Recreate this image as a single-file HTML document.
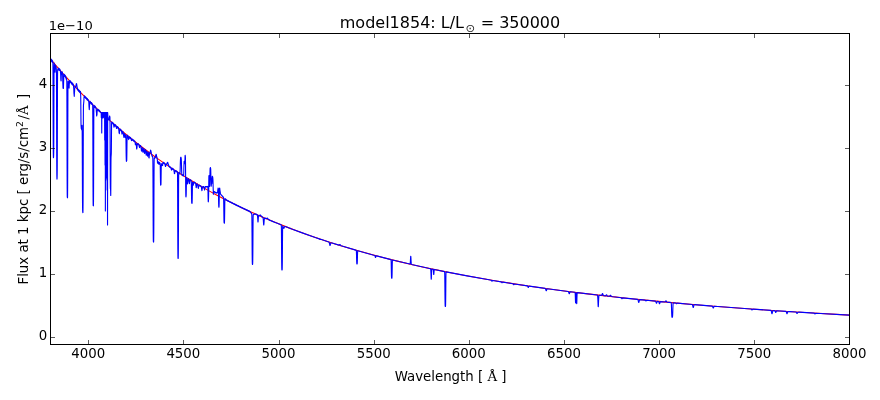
<!DOCTYPE html>
<html><head><meta charset="utf-8"><title>model1854</title>
<style>
html,body{margin:0;padding:0;background:#fff;}
svg{display:block;font-family:"DejaVu Sans","Liberation Sans",sans-serif;font-size:13.33px;fill:#000;}
.ser{font-family:"DejaVu Serif","Liberation Serif",serif;}
</style></head><body>
<svg width="880" height="400" viewBox="0 0 880 400">
<rect width="880" height="400" fill="#fff"/>
<clipPath id="c"><rect x="50.5" y="33.5" width="799.0" height="311.0"/></clipPath>
<g clip-path="url(#c)" fill="none" stroke-linejoin="round" stroke-width="1.11">
<path d="M50.50,59.23 L55.82,65.47 L61.22,71.64 L66.66,77.70 L72.18,83.70 L77.78,89.61 L83.42,95.41 L89.14,101.13 L94.94,106.78 L100.82,112.34 L106.78,117.81 L112.82,123.20 L118.98,128.54 L125.22,133.79 L131.54,138.94 L137.98,144.03 L144.54,149.06 L151.18,153.98 L157.94,158.84 L164.82,163.62 L171.86,168.36 L179.02,173.01 L186.30,177.58 L193.74,182.09 L201.34,186.53 L209.06,190.89 L216.94,195.18 L225.02,199.41 L233.26,203.56 L241.70,207.66 L250.34,211.69 L259.18,215.65 L268.22,219.54 L277.46,223.36 L286.94,227.11 L296.66,230.80 L306.66,234.43 L316.90,237.99 L327.42,241.48 L338.26,244.92 L349.38,248.29 L360.82,251.59 L372.62,254.83 L384.78,258.01 L397.34,261.14 L410.30,264.19 L423.66,267.19 L437.50,270.12 L451.82,273.00 L466.62,275.81 L481.98,278.57 L497.90,281.26 L514.42,283.89 L531.62,286.47 L549.50,288.98 L568.10,291.44 L587.50,293.83 L607.74,296.17 L628.90,298.45 L651.06,300.67 L674.26,302.84 L698.58,304.95 L724.14,307.00 L751.02,308.99 L779.34,310.93 L809.22,312.80 L840.78,314.62 L849.50,315.10" stroke="#f00"/>
<path d="M50.50,59.23 L50.54,59.60 L50.58,59.78 L50.62,59.69 L50.70,59.14 L50.74,59.05 L50.78,59.23 L50.82,59.61 L50.86,60.31 L50.90,60.63 L50.94,60.41 L51.02,59.18 L51.06,58.96 L51.10,59.28 L51.14,59.98 L51.18,60.53 L51.22,60.78 L51.26,60.62 L51.34,59.73 L51.38,59.57 L51.42,59.82 L51.46,60.36 L51.50,61.04 L51.54,61.35 L51.58,61.13 L51.66,59.97 L51.70,59.76 L51.74,60.07 L51.78,60.74 L51.82,61.54 L51.86,61.89 L51.90,61.63 L51.98,60.23 L52.02,59.97 L52.06,60.33 L52.10,61.12 L52.14,61.71 L52.18,61.98 L52.22,61.80 L52.30,60.82 L52.34,60.64 L52.38,60.91 L52.46,62.06 L52.50,62.33 L52.54,62.16 L52.62,61.21 L52.66,61.04 L52.70,61.31 L52.74,61.87 L52.78,62.25 L52.86,62.73 L52.90,63.44 L52.94,65.62 L52.98,70.41 L53.02,78.61 L53.06,90.05 L53.10,103.64 L53.14,117.44 L53.18,129.76 L53.22,139.56 L53.26,146.64 L53.30,151.39 L53.34,154.40 L53.38,156.21 L53.42,157.28 L53.46,157.66 L53.50,157.50 L53.54,157.02 L53.58,156.44 L53.62,155.76 L53.66,154.67 L53.70,152.43 L53.74,148.21 L53.78,141.07 L53.82,130.70 L53.86,117.71 L53.90,103.57 L53.94,90.24 L53.98,79.46 L54.02,72.10 L54.06,67.94 L54.10,65.83 L54.14,64.65 L54.18,63.78 L54.22,63.17 L54.26,63.04 L54.30,63.50 L54.34,64.41 L54.38,65.18 L54.42,65.76 L54.46,66.05 L54.50,66.17 L54.54,66.37 L54.58,66.91 L54.62,67.90 L54.66,69.17 L54.70,70.30 L54.74,71.18 L54.78,71.72 L54.82,71.93 L54.94,72.09 L55.02,72.17 L55.06,71.80 L55.10,70.99 L55.18,68.78 L55.22,67.94 L55.26,67.50 L55.30,67.39 L55.34,67.64 L55.38,67.59 L55.42,67.04 L55.50,65.36 L55.54,65.03 L55.58,65.31 L55.62,66.04 L55.66,66.47 L55.70,66.71 L55.74,66.65 L55.82,66.11 L55.86,66.07 L55.90,66.35 L55.94,66.85 L55.98,67.47 L56.02,67.80 L56.06,67.73 L56.14,67.04 L56.18,66.97 L56.22,67.31 L56.26,67.94 L56.30,68.81 L56.34,69.42 L56.38,69.92 L56.42,71.19 L56.46,74.70 L56.50,81.90 L56.54,93.39 L56.58,108.35 L56.62,124.38 L56.66,139.81 L56.70,152.92 L56.74,162.88 L56.78,169.72 L56.82,174.00 L56.86,176.50 L56.90,177.85 L56.94,178.76 L56.98,179.09 L57.02,178.91 L57.06,178.35 L57.10,177.53 L57.14,176.33 L57.18,174.28 L57.22,170.51 L57.26,164.18 L57.30,154.32 L57.34,140.89 L57.38,124.97 L57.42,108.61 L57.46,94.15 L57.50,83.34 L57.54,76.64 L57.58,72.90 L57.62,71.18 L57.66,70.33 L57.70,69.72 L57.74,69.26 L57.78,69.06 L57.82,69.17 L57.86,69.50 L57.90,69.98 L57.94,70.15 L57.98,69.89 L58.06,68.78 L58.10,68.52 L58.14,68.71 L58.18,69.20 L58.22,69.85 L58.26,70.11 L58.30,69.81 L58.38,68.41 L58.42,68.12 L58.46,68.39 L58.50,69.07 L58.54,69.40 L58.58,69.54 L58.62,69.41 L58.70,68.76 L58.74,68.64 L58.78,68.79 L58.82,69.14 L58.86,69.67 L58.90,69.90 L58.94,69.72 L59.02,68.76 L59.06,68.59 L59.10,68.83 L59.14,69.37 L59.18,70.01 L59.22,70.29 L59.26,70.08 L59.34,68.95 L59.38,68.74 L59.42,69.03 L59.50,70.28 L59.54,70.56 L59.58,70.37 L59.66,69.32 L59.70,69.13 L59.74,69.41 L59.78,70.02 L59.82,70.54 L59.86,70.78 L59.90,70.63 L59.98,69.77 L60.02,69.62 L60.06,69.86 L60.10,70.39 L60.14,70.81 L60.18,71.02 L60.22,70.95 L60.30,70.43 L60.34,70.43 L60.38,70.78 L60.42,71.39 L60.46,72.20 L60.50,72.82 L60.54,73.13 L60.58,73.27 L60.62,73.51 L60.66,74.14 L60.70,75.26 L60.78,78.11 L60.82,79.23 L60.86,79.90 L60.90,80.17 L60.98,80.36 L61.06,80.82 L61.10,80.87 L61.14,80.46 L61.18,79.50 L61.26,76.82 L61.30,75.75 L61.34,75.12 L61.42,74.64 L61.46,74.29 L61.50,73.69 L61.54,72.94 L61.58,72.27 L61.62,71.94 L61.66,72.01 L61.70,72.37 L61.74,72.98 L61.78,73.24 L61.82,72.99 L61.90,71.79 L61.94,71.57 L61.98,71.87 L62.06,73.19 L62.10,73.48 L62.14,73.28 L62.22,72.17 L62.26,71.97 L62.30,72.26 L62.34,72.90 L62.38,73.35 L62.42,73.57 L62.46,73.48 L62.50,73.21 L62.54,73.07 L62.58,73.39 L62.62,74.36 L62.66,75.94 L62.74,79.96 L62.78,81.58 L62.82,82.82 L62.90,84.84 L62.98,87.09 L63.02,87.86 L63.06,88.24 L63.10,88.21 L63.18,87.56 L63.22,87.44 L63.26,87.64 L63.34,88.47 L63.38,88.52 L63.42,88.04 L63.46,87.05 L63.58,83.21 L63.62,82.01 L63.66,80.67 L63.70,79.17 L63.74,77.56 L63.78,76.06 L63.82,74.93 L63.86,74.37 L63.90,74.37 L63.94,74.74 L63.98,75.29 L64.02,75.56 L64.06,75.37 L64.14,74.38 L64.18,74.20 L64.22,74.47 L64.26,75.06 L64.30,75.52 L64.34,75.74 L64.38,75.61 L64.46,74.87 L64.50,74.74 L64.54,74.96 L64.62,75.93 L64.66,76.17 L64.70,76.03 L64.78,75.21 L64.82,75.08 L64.86,75.32 L64.90,75.82 L64.94,76.44 L64.98,76.73 L65.02,76.55 L65.10,75.53 L65.14,75.36 L65.18,75.65 L65.22,76.27 L65.26,76.77 L65.30,77.02 L65.34,76.90 L65.42,76.17 L65.46,76.06 L65.50,76.31 L65.54,76.82 L65.58,77.54 L65.62,77.89 L65.66,77.71 L65.74,76.60 L65.78,76.42 L65.82,76.78 L65.86,77.52 L65.90,77.95 L65.94,78.19 L65.98,78.15 L66.06,77.70 L66.10,77.67 L66.14,77.92 L66.18,78.37 L66.22,79.06 L66.26,79.41 L66.30,79.30 L66.38,78.41 L66.42,78.29 L66.46,78.65 L66.50,79.35 L66.54,79.91 L66.58,80.21 L66.62,80.16 L66.70,79.58 L66.74,79.71 L66.78,80.71 L66.82,83.23 L66.86,88.15 L66.90,96.32 L66.94,108.09 L66.98,122.89 L67.02,139.29 L67.06,155.46 L67.10,169.78 L67.14,181.16 L67.18,189.29 L67.22,194.21 L67.26,196.52 L67.30,197.12 L67.38,196.87 L67.42,197.13 L67.46,197.64 L67.50,197.82 L67.54,196.97 L67.58,194.34 L67.62,189.25 L67.66,181.26 L67.70,170.20 L67.74,156.35 L67.78,140.55 L67.82,124.24 L67.86,109.27 L67.90,97.23 L67.94,88.90 L67.98,84.08 L68.02,81.91 L68.06,81.35 L68.14,81.75 L68.18,81.82 L68.22,81.70 L68.30,81.21 L68.34,81.15 L68.38,81.33 L68.42,81.70 L68.46,82.17 L68.50,82.54 L68.54,82.74 L68.58,82.85 L68.62,83.05 L68.66,83.49 L68.70,84.24 L68.74,85.21 L68.78,86.44 L68.82,87.32 L68.86,87.68 L68.90,87.62 L68.94,87.42 L68.98,87.37 L69.02,87.59 L69.06,87.95 L69.10,88.06 L69.14,87.76 L69.18,86.97 L69.26,84.67 L69.30,83.79 L69.34,83.35 L69.38,83.23 L69.42,83.27 L69.46,83.08 L69.50,82.53 L69.58,81.01 L69.62,80.66 L69.66,80.79 L69.70,81.28 L69.74,81.90 L69.78,82.17 L69.82,81.91 L69.90,80.67 L69.94,80.44 L69.98,80.74 L70.02,81.41 L70.06,81.98 L70.10,82.24 L70.14,82.06 L70.22,81.08 L70.26,80.90 L70.30,81.16 L70.34,81.73 L70.38,82.04 L70.42,82.20 L70.46,82.13 L70.54,81.67 L70.58,81.60 L70.62,81.75 L70.66,82.07 L70.70,82.48 L70.74,82.68 L70.78,82.57 L70.86,81.90 L70.90,81.79 L70.94,81.99 L70.98,82.41 L71.02,82.94 L71.06,83.18 L71.10,83.02 L71.18,82.13 L71.22,81.97 L71.26,82.22 L71.30,82.75 L71.34,83.14 L71.38,83.32 L71.42,83.22 L71.50,82.62 L71.54,82.52 L71.58,82.71 L71.62,83.09 L71.66,83.77 L71.70,84.08 L71.74,83.86 L71.82,82.67 L71.86,82.45 L71.90,82.76 L71.98,84.11 L72.02,84.41 L72.06,84.19 L72.14,83.03 L72.18,82.81 L72.22,83.11 L72.30,84.41 L72.34,84.70 L72.38,84.50 L72.46,83.41 L72.50,83.21 L72.54,83.49 L72.58,84.12 L72.62,84.60 L72.66,84.82 L72.70,84.69 L72.78,83.90 L72.82,83.77 L72.86,83.99 L72.90,84.47 L72.94,85.09 L72.98,85.37 L73.02,85.18 L73.10,84.11 L73.14,83.92 L73.18,84.21 L73.22,84.85 L73.26,85.22 L73.30,85.42 L73.34,85.39 L73.42,85.06 L73.46,85.12 L73.50,85.46 L73.54,86.03 L73.58,86.72 L73.62,87.27 L73.66,87.60 L73.74,88.04 L73.78,88.59 L73.82,89.51 L73.86,90.69 L73.90,91.95 L73.94,92.96 L73.98,93.59 L74.02,93.91 L74.06,94.14 L74.10,94.49 L74.14,95.05 L74.22,96.27 L74.26,96.36 L74.30,95.84 L74.34,94.86 L74.38,93.76 L74.42,92.88 L74.46,92.38 L74.50,92.16 L74.54,91.84 L74.58,91.29 L74.62,90.44 L74.70,88.41 L74.74,87.76 L74.78,87.55 L74.86,87.71 L74.90,87.65 L74.94,87.39 L75.02,86.64 L75.06,86.48 L75.10,86.58 L75.14,86.87 L75.18,87.25 L75.22,87.41 L75.26,87.27 L75.34,86.53 L75.38,86.37 L75.42,86.52 L75.50,87.22 L75.54,87.34 L75.58,87.14 L75.66,86.26 L75.70,86.02 L75.74,86.07 L75.82,86.53 L75.86,86.53 L75.90,86.22 L75.98,85.15 L76.02,84.81 L76.06,84.77 L76.14,85.05 L76.18,85.00 L76.22,84.71 L76.30,83.83 L76.34,83.60 L76.38,83.66 L76.42,83.92 L76.46,84.31 L76.50,84.50 L76.54,84.39 L76.62,83.81 L76.66,83.80 L76.70,84.15 L76.78,85.40 L76.82,85.82 L76.86,85.91 L76.94,85.63 L76.98,85.74 L77.02,86.18 L77.06,86.86 L77.10,87.66 L77.14,88.13 L77.18,88.14 L77.26,87.49 L77.30,87.46 L77.34,87.86 L77.42,89.24 L77.46,89.60 L77.50,89.50 L77.58,88.62 L77.62,88.48 L77.66,88.79 L77.70,89.40 L77.74,89.91 L77.78,90.15 L77.82,90.03 L77.90,89.27 L77.94,89.14 L77.98,89.36 L78.06,90.31 L78.10,90.52 L78.14,90.39 L78.22,89.66 L78.26,89.53 L78.30,89.74 L78.34,90.19 L78.38,90.77 L78.42,91.03 L78.46,90.85 L78.54,89.87 L78.58,89.69 L78.62,89.95 L78.70,91.14 L78.74,91.42 L78.78,91.23 L78.86,90.16 L78.90,89.97 L78.94,90.25 L78.98,90.86 L79.02,91.39 L79.06,91.64 L79.10,91.47 L79.18,90.58 L79.22,90.41 L79.26,90.66 L79.34,91.77 L79.38,92.03 L79.42,91.85 L79.50,90.86 L79.54,90.68 L79.58,90.94 L79.66,92.15 L79.70,92.44 L79.74,92.23 L79.82,91.14 L79.86,90.94 L79.90,91.22 L79.94,91.85 L79.98,92.14 L80.02,92.28 L80.06,92.22 L80.14,91.81 L80.18,91.75 L80.22,91.89 L80.26,92.18 L80.30,92.79 L80.34,93.06 L80.38,92.87 L80.46,91.83 L80.50,91.65 L80.54,91.96 L80.62,93.42 L80.66,94.37 L80.70,95.72 L80.74,97.74 L80.78,100.68 L80.82,104.55 L80.86,109.11 L80.90,113.83 L80.94,118.22 L80.98,121.69 L81.02,124.06 L81.06,125.44 L81.10,126.17 L81.22,127.74 L81.26,128.34 L81.30,128.60 L81.34,128.42 L81.42,127.33 L81.46,126.93 L81.50,126.86 L81.54,127.17 L81.58,127.77 L81.66,129.39 L81.70,129.90 L81.74,129.93 L81.78,129.52 L81.86,128.21 L81.90,127.35 L81.94,126.59 L81.98,125.94 L82.02,125.45 L82.06,125.33 L82.10,125.94 L82.14,127.81 L82.18,131.47 L82.22,137.51 L82.26,145.63 L82.30,155.26 L82.34,165.52 L82.38,175.51 L82.42,184.58 L82.46,192.46 L82.50,199.07 L82.54,204.09 L82.58,207.74 L82.62,210.02 L82.66,211.16 L82.70,211.56 L82.78,211.89 L82.82,212.21 L82.86,212.62 L82.90,212.67 L82.94,212.00 L82.98,210.31 L83.02,207.30 L83.06,202.66 L83.10,196.01 L83.14,187.03 L83.18,175.79 L83.22,162.44 L83.26,147.97 L83.30,133.91 L83.34,121.88 L83.38,113.07 L83.42,107.77 L83.46,105.36 L83.50,104.54 L83.58,104.23 L83.62,103.82 L83.70,102.74 L83.74,102.38 L83.82,101.84 L83.86,101.27 L83.90,100.34 L83.98,98.12 L84.02,97.39 L84.06,97.13 L84.10,97.21 L84.14,97.43 L84.18,97.43 L84.22,97.09 L84.30,95.97 L84.34,95.75 L84.38,95.96 L84.46,97.01 L84.50,97.26 L84.54,97.08 L84.62,96.10 L84.66,95.93 L84.70,96.18 L84.78,97.29 L84.82,97.54 L84.86,97.37 L84.94,96.45 L84.98,96.28 L85.02,96.53 L85.06,97.07 L85.10,97.33 L85.14,97.47 L85.18,97.41 L85.26,97.04 L85.30,96.99 L85.34,97.13 L85.38,97.39 L85.42,97.81 L85.46,98.00 L85.50,97.89 L85.58,97.22 L85.62,97.10 L85.66,97.30 L85.74,98.14 L85.78,98.34 L85.82,98.22 L85.90,97.52 L85.94,97.40 L85.98,97.60 L86.02,98.03 L86.06,98.31 L86.10,98.45 L86.14,98.39 L86.22,97.99 L86.26,97.93 L86.30,98.07 L86.34,98.35 L86.38,98.81 L86.42,99.02 L86.46,98.89 L86.54,98.14 L86.58,98.01 L86.62,98.22 L86.70,99.15 L86.74,99.37 L86.78,99.23 L86.86,98.43 L86.90,98.29 L86.94,98.51 L87.02,99.55 L87.06,99.80 L87.10,99.63 L87.18,98.67 L87.22,98.50 L87.26,98.75 L87.34,99.91 L87.38,100.18 L87.42,99.99 L87.50,98.95 L87.54,98.76 L87.58,99.03 L87.62,99.63 L87.66,99.93 L87.70,100.08 L87.74,100.01 L87.82,99.56 L87.86,99.49 L87.90,99.64 L87.98,100.29 L88.02,100.45 L88.06,100.37 L88.14,99.85 L88.18,99.76 L88.22,99.93 L88.26,100.27 L88.30,100.76 L88.34,100.99 L88.38,100.85 L88.46,100.06 L88.50,99.95 L88.54,100.23 L88.58,100.80 L88.62,101.21 L88.66,101.52 L88.70,101.66 L88.78,101.86 L88.82,102.23 L88.86,102.92 L88.90,103.84 L88.94,104.87 L88.98,105.77 L89.02,106.45 L89.14,107.84 L89.22,109.00 L89.26,109.51 L89.30,109.57 L89.34,109.10 L89.38,108.22 L89.42,107.22 L89.46,106.37 L89.50,105.83 L89.54,105.53 L89.58,105.12 L89.62,104.62 L89.74,102.60 L89.78,102.21 L89.82,102.11 L89.86,102.24 L89.90,102.64 L89.94,102.79 L89.98,102.56 L90.06,101.59 L90.10,101.41 L90.14,101.64 L90.22,102.72 L90.26,102.97 L90.30,102.79 L90.38,101.84 L90.42,101.67 L90.46,101.92 L90.50,102.47 L90.54,102.74 L90.58,102.87 L90.62,102.81 L90.70,102.44 L90.74,102.39 L90.78,102.52 L90.82,102.78 L90.86,103.22 L90.90,103.43 L90.94,103.30 L91.02,102.58 L91.06,102.46 L91.10,102.66 L91.14,103.10 L91.18,103.63 L91.22,103.87 L91.26,103.70 L91.34,102.80 L91.38,102.64 L91.42,102.88 L91.50,104.00 L91.54,104.27 L91.58,104.08 L91.66,103.06 L91.70,102.87 L91.74,103.13 L91.78,103.72 L91.82,104.07 L91.86,104.23 L91.90,104.15 L91.98,103.61 L92.02,103.52 L92.06,103.69 L92.14,104.34 L92.18,104.49 L92.22,104.42 L92.30,103.96 L92.34,103.89 L92.38,104.04 L92.42,104.34 L92.46,104.90 L92.50,105.15 L92.54,104.97 L92.62,104.12 L92.66,104.28 L92.70,105.58 L92.74,108.75 L92.78,114.52 L92.82,123.34 L92.86,135.00 L92.90,148.55 L92.94,162.60 L92.98,175.71 L93.02,186.83 L93.06,195.35 L93.10,200.86 L93.14,204.00 L93.18,205.37 L93.22,205.68 L93.30,205.50 L93.38,205.83 L93.42,205.69 L93.46,204.43 L93.50,201.33 L93.54,195.81 L93.58,187.53 L93.62,176.56 L93.66,163.45 L93.70,149.33 L93.74,135.78 L93.78,124.17 L93.82,115.46 L93.86,109.83 L93.90,106.80 L93.94,105.60 L93.98,105.50 L94.02,105.91 L94.06,106.43 L94.10,106.67 L94.14,106.50 L94.22,105.59 L94.26,105.42 L94.30,105.67 L94.34,106.20 L94.38,106.50 L94.42,106.65 L94.46,106.58 L94.54,106.13 L94.58,106.06 L94.62,106.21 L94.66,106.51 L94.70,106.98 L94.74,107.20 L94.78,107.05 L94.86,106.27 L94.90,106.13 L94.94,106.35 L95.02,107.33 L95.06,107.57 L95.10,107.41 L95.18,106.53 L95.22,106.37 L95.26,106.61 L95.30,107.12 L95.34,107.55 L95.38,107.75 L95.42,107.63 L95.50,106.92 L95.54,106.80 L95.58,107.00 L95.62,107.43 L95.66,107.74 L95.70,107.89 L95.74,107.83 L95.82,107.42 L95.86,107.38 L95.90,107.57 L95.98,108.26 L96.02,108.49 L96.06,108.58 L96.14,108.62 L96.18,108.84 L96.22,109.30 L96.26,109.94 L96.30,110.72 L96.34,111.37 L96.38,111.82 L96.46,112.45 L96.50,112.94 L96.54,113.65 L96.58,114.49 L96.62,115.42 L96.66,115.98 L96.70,116.04 L96.74,115.70 L96.78,115.24 L96.82,114.92 L96.86,114.88 L96.90,115.01 L96.94,114.81 L96.98,114.41 L97.02,113.79 L97.10,112.27 L97.14,111.67 L97.18,111.28 L97.30,110.66 L97.42,109.53 L97.46,109.33 L97.50,109.33 L97.54,109.48 L97.58,109.77 L97.62,109.89 L97.66,109.76 L97.74,109.15 L97.78,109.05 L97.82,109.21 L97.86,109.57 L97.90,109.82 L97.94,109.95 L97.98,109.90 L98.06,109.52 L98.10,109.47 L98.14,109.60 L98.22,110.15 L98.26,110.29 L98.30,110.22 L98.38,109.80 L98.42,109.73 L98.46,109.87 L98.54,110.41 L98.58,110.53 L98.62,110.48 L98.70,110.14 L98.74,110.09 L98.78,110.22 L98.82,110.46 L98.86,110.87 L98.90,111.07 L98.94,110.95 L99.02,110.28 L99.06,110.16 L99.10,110.36 L99.18,111.23 L99.22,111.44 L99.26,111.30 L99.34,110.53 L99.38,110.39 L99.42,110.60 L99.46,111.07 L99.50,111.44 L99.54,111.62 L99.58,111.52 L99.66,110.91 L99.70,110.81 L99.74,110.99 L99.78,111.37 L99.82,111.65 L99.86,111.78 L99.90,111.72 L99.98,111.31 L100.02,111.25 L100.06,111.39 L100.14,112.01 L100.18,112.17 L100.30,112.17 L101.10,112.50 L101.18,112.50 L101.30,117.50 L101.42,112.50 L101.62,112.50 L101.74,132.90 L101.86,112.50 L102.06,112.50 L102.18,118.00 L102.30,112.50 L102.46,112.50 L102.58,117.00 L102.70,112.50 L102.86,112.50 L102.98,118.00 L103.10,112.50 L103.30,112.50 L103.42,117.50 L103.54,112.50 L103.66,112.50 L103.78,116.50 L103.90,112.50 L104.58,112.50 L104.70,140.00 L104.82,112.50 L104.94,112.50 L105.06,165.00 L105.18,112.50 L105.26,112.50 L105.38,211.00 L105.50,112.50 L105.62,112.50 L105.74,180.00 L105.86,112.50 L105.98,112.50 L106.10,165.00 L106.22,112.50 L106.34,112.50 L106.46,178.00 L106.58,112.50 L106.70,112.50 L106.82,170.00 L106.94,112.50 L107.02,112.50 L107.14,190.00 L107.26,112.50 L107.42,112.50 L107.54,225.00 L107.66,112.50 L107.98,118.14 L108.02,118.44 L108.06,118.62 L108.14,119.39 L108.18,119.57 L108.22,119.46 L108.30,118.83 L108.34,118.71 L108.38,118.89 L108.46,119.58 L108.50,119.72 L108.54,119.62 L108.62,119.08 L108.66,118.97 L108.70,119.08 L108.74,119.35 L108.78,119.73 L108.82,119.86 L108.86,119.64 L108.94,118.67 L108.98,118.40 L109.02,118.45 L109.06,118.72 L109.10,118.79 L109.14,118.72 L109.18,118.43 L109.26,117.55 L109.30,117.24 L109.34,117.12 L109.42,117.19 L109.46,117.11 L109.50,116.85 L109.58,116.13 L109.62,115.97 L109.66,116.04 L109.70,116.30 L109.74,116.65 L109.78,116.87 L109.82,116.88 L109.86,116.78 L109.90,116.82 L109.94,117.41 L109.98,119.25 L110.02,123.16 L110.06,129.74 L110.10,138.87 L110.18,160.31 L110.22,169.81 L110.26,177.31 L110.30,182.66 L110.34,186.10 L110.38,187.99 L110.42,188.82 L110.46,189.03 L110.50,189.01 L110.54,189.14 L110.58,189.76 L110.62,191.09 L110.70,194.93 L110.74,195.43 L110.78,193.29 L110.82,188.09 L110.86,180.56 L110.90,172.38 L110.94,165.34 L110.98,160.54 L111.02,157.94 L111.06,156.75 L111.10,156.13 L111.18,155.14 L111.22,154.73 L111.26,154.24 L111.30,153.26 L111.34,151.04 L111.38,147.51 L111.42,142.73 L111.46,137.22 L111.50,131.82 L111.54,127.45 L111.58,124.59 L111.62,123.18 L111.66,122.78 L111.74,122.55 L111.82,122.03 L111.86,121.95 L111.90,122.10 L111.98,122.71 L112.02,122.85 L112.06,122.78 L112.14,122.36 L112.18,122.29 L112.22,122.43 L112.30,123.06 L112.34,123.23 L112.38,123.13 L112.46,122.57 L112.50,122.48 L112.54,122.64 L112.62,123.29 L112.66,123.43 L112.70,123.36 L112.78,122.91 L112.82,122.83 L112.86,122.98 L112.94,123.64 L112.98,123.81 L113.02,123.71 L113.10,123.13 L113.14,123.03 L113.18,123.21 L113.22,123.58 L113.26,124.07 L113.30,124.31 L113.34,124.19 L113.42,123.46 L113.46,123.38 L113.50,123.70 L113.54,124.31 L113.58,124.79 L113.62,125.13 L113.66,125.25 L113.74,125.22 L113.78,125.39 L113.82,125.78 L113.90,126.90 L113.94,127.21 L113.98,127.16 L114.06,126.43 L114.10,126.19 L114.14,126.20 L114.22,126.53 L114.26,126.46 L114.30,126.11 L114.38,125.03 L114.42,124.74 L114.46,124.76 L114.54,125.36 L114.58,125.48 L114.62,125.30 L114.70,124.51 L114.74,124.36 L114.78,124.54 L114.82,124.97 L114.86,125.19 L114.90,125.30 L114.94,125.26 L115.02,124.93 L115.06,124.89 L115.10,125.00 L115.14,125.23 L115.18,125.66 L115.22,125.86 L115.26,125.73 L115.34,125.02 L115.38,124.89 L115.42,125.09 L115.50,126.00 L115.54,126.22 L115.58,126.07 L115.66,125.24 L115.70,125.09 L115.74,125.32 L115.78,125.81 L115.82,126.21 L115.86,126.41 L115.90,126.33 L115.98,125.79 L116.02,125.75 L116.06,126.02 L116.14,126.91 L116.18,127.19 L116.22,127.27 L116.30,127.12 L116.34,127.19 L116.38,127.45 L116.46,128.29 L116.50,128.50 L116.54,128.36 L116.62,127.55 L116.66,127.31 L116.70,127.36 L116.78,127.87 L116.82,127.91 L116.86,127.66 L116.94,126.75 L116.98,126.54 L117.02,126.66 L117.10,127.38 L117.14,127.53 L117.18,127.40 L117.26,126.72 L117.30,126.60 L117.34,126.78 L117.38,127.17 L117.42,127.42 L117.46,127.54 L117.50,127.49 L117.58,127.13 L117.62,127.07 L117.66,127.20 L117.70,127.45 L117.74,127.93 L117.78,128.15 L117.82,128.00 L117.90,127.17 L117.94,127.02 L117.98,127.24 L118.06,128.20 L118.10,128.42 L118.14,128.27 L118.22,127.46 L118.26,127.32 L118.30,127.55 L118.34,128.04 L118.38,128.39 L118.42,128.57 L118.46,128.53 L118.54,128.15 L118.58,128.16 L118.62,128.44 L118.66,128.92 L118.70,129.48 L118.74,129.88 L118.78,130.04 L118.86,130.05 L118.90,130.29 L118.94,130.82 L118.98,131.56 L119.02,132.13 L119.06,132.57 L119.10,132.82 L119.22,133.00 L119.30,133.28 L119.34,133.63 L119.38,133.64 L119.42,133.22 L119.50,131.74 L119.54,131.22 L119.58,131.08 L119.66,131.30 L119.70,131.19 L119.74,130.78 L119.82,129.60 L119.86,129.30 L119.90,129.36 L119.98,129.97 L120.02,130.09 L120.06,129.93 L120.14,129.24 L120.18,129.11 L120.22,129.27 L120.30,130.06 L120.34,130.24 L120.38,130.12 L120.46,129.42 L120.50,129.30 L120.54,129.49 L120.58,129.90 L120.62,130.16 L120.66,130.28 L120.70,130.22 L120.78,129.85 L120.82,129.79 L120.86,129.92 L120.94,130.46 L120.98,130.60 L121.02,130.53 L121.10,130.09 L121.14,130.02 L121.18,130.17 L121.26,130.75 L121.30,130.90 L121.34,130.87 L121.42,130.57 L121.46,130.58 L121.50,130.82 L121.54,131.23 L121.58,131.76 L121.62,132.13 L121.66,132.26 L121.74,132.18 L121.78,132.35 L121.82,132.78 L121.86,133.38 L121.90,133.80 L121.94,134.05 L121.98,134.07 L122.10,133.50 L122.18,133.41 L122.22,133.60 L122.26,133.53 L122.30,133.13 L122.38,131.89 L122.42,131.55 L122.46,131.59 L122.50,131.90 L122.54,132.12 L122.58,132.19 L122.62,132.04 L122.70,131.46 L122.74,131.35 L122.78,131.50 L122.86,132.15 L122.90,132.31 L122.94,132.25 L123.02,131.81 L123.06,131.78 L123.10,132.01 L123.18,132.78 L123.22,133.05 L123.26,133.18 L123.34,133.33 L123.38,133.56 L123.42,133.98 L123.46,134.53 L123.50,135.26 L123.54,135.77 L123.58,135.98 L123.66,135.91 L123.70,136.00 L123.74,136.32 L123.82,137.20 L123.86,137.32 L123.90,137.05 L123.98,135.88 L124.02,135.46 L124.06,135.33 L124.14,135.44 L124.18,135.29 L124.22,134.89 L124.30,133.78 L124.34,133.47 L124.38,133.49 L124.46,133.93 L124.50,134.03 L124.54,133.98 L124.62,133.72 L124.66,133.79 L124.70,134.08 L124.74,134.54 L124.78,135.18 L124.82,135.63 L124.86,135.78 L124.94,135.68 L124.98,135.83 L125.02,136.28 L125.06,136.91 L125.10,137.32 L125.14,137.56 L125.18,137.58 L125.30,137.00 L125.38,136.95 L125.42,137.11 L125.46,137.02 L125.50,136.60 L125.58,135.33 L125.62,134.94 L125.66,134.89 L125.74,135.29 L125.82,135.43 L125.86,135.63 L125.90,136.35 L125.94,137.94 L125.98,140.49 L126.02,143.81 L126.06,147.36 L126.10,150.76 L126.14,153.65 L126.18,155.91 L126.22,157.58 L126.26,158.83 L126.30,159.80 L126.34,160.54 L126.38,161.10 L126.42,161.34 L126.46,161.26 L126.54,160.73 L126.58,160.62 L126.66,160.80 L126.70,160.69 L126.74,160.02 L126.78,158.60 L126.82,156.42 L126.86,153.65 L126.94,147.46 L126.98,144.51 L127.02,141.77 L127.06,139.46 L127.10,137.65 L127.14,136.36 L127.18,135.57 L127.22,135.25 L127.26,135.28 L127.30,135.51 L127.34,135.92 L127.38,136.11 L127.42,135.98 L127.50,135.28 L127.54,135.16 L127.58,135.36 L127.62,135.78 L127.66,136.09 L127.70,136.24 L127.74,136.18 L127.82,135.75 L127.86,135.71 L127.90,135.90 L127.94,136.27 L127.98,136.78 L128.02,137.07 L128.06,137.06 L128.14,136.64 L128.18,136.69 L128.22,137.09 L128.30,138.36 L128.34,138.77 L128.38,138.86 L128.46,138.53 L128.50,138.54 L128.54,138.83 L128.58,139.29 L128.62,139.50 L128.66,139.56 L128.70,139.43 L128.78,138.82 L128.82,138.58 L128.86,138.47 L128.90,138.47 L128.94,138.61 L128.98,138.56 L129.02,138.26 L129.10,137.33 L129.14,137.08 L129.18,137.13 L129.26,137.58 L129.30,137.65 L129.34,137.53 L129.42,137.06 L129.46,136.97 L129.50,137.09 L129.54,137.35 L129.58,137.73 L129.62,137.90 L129.66,137.78 L129.74,137.14 L129.78,137.02 L129.82,137.20 L129.90,137.92 L129.94,138.07 L129.98,137.98 L130.06,137.45 L130.10,137.36 L130.14,137.52 L130.22,138.15 L130.26,138.30 L130.30,138.22 L130.38,137.73 L130.42,137.65 L130.46,137.80 L130.50,138.10 L130.54,138.52 L130.58,138.72 L130.62,138.59 L130.70,137.89 L130.74,137.76 L130.78,137.96 L130.82,138.39 L130.86,138.62 L130.90,138.74 L130.94,138.74 L131.02,138.57 L131.06,138.60 L131.10,138.79 L131.14,139.10 L131.18,139.55 L131.22,139.83 L131.26,139.87 L131.34,139.58 L131.38,139.60 L131.42,139.83 L131.46,140.21 L131.50,140.50 L131.54,140.61 L131.58,140.50 L131.66,139.90 L131.70,139.71 L131.74,139.71 L131.82,139.93 L131.86,139.91 L131.90,139.77 L131.98,139.34 L132.02,139.25 L132.06,139.30 L132.10,139.47 L132.14,139.82 L132.18,139.98 L132.22,139.85 L132.30,139.21 L132.34,139.10 L132.38,139.27 L132.46,139.98 L132.50,140.13 L132.54,140.04 L132.62,139.51 L132.66,139.42 L132.70,139.57 L132.74,139.90 L132.78,140.31 L132.82,140.50 L132.86,140.38 L132.94,139.68 L132.98,139.56 L133.02,139.75 L133.10,140.49 L133.14,140.65 L133.18,140.56 L133.26,140.01 L133.30,139.92 L133.34,140.08 L133.42,140.68 L133.46,140.81 L133.50,140.75 L133.58,140.33 L133.62,140.27 L133.66,140.40 L133.70,140.67 L133.74,141.10 L133.78,141.30 L133.82,141.16 L133.90,140.43 L133.94,140.29 L133.98,140.49 L134.02,140.92 L134.06,141.13 L134.10,141.24 L134.14,141.20 L134.22,140.90 L134.26,140.85 L134.30,140.96 L134.38,141.37 L134.42,141.47 L134.46,141.43 L134.54,141.17 L134.58,141.13 L134.62,141.24 L134.66,141.44 L134.70,141.81 L134.74,141.99 L134.78,141.90 L134.86,141.35 L134.90,141.29 L134.94,141.53 L135.02,142.37 L135.06,142.65 L135.10,142.76 L135.18,142.76 L135.22,142.94 L135.26,143.33 L135.34,144.36 L135.38,144.70 L135.42,144.79 L135.54,144.40 L135.58,144.43 L135.62,144.55 L135.66,144.75 L135.70,144.70 L135.74,144.34 L135.82,143.19 L135.86,142.87 L135.90,142.88 L135.94,143.15 L135.98,143.33 L136.02,143.43 L136.06,143.39 L136.14,143.19 L136.18,143.31 L136.22,143.68 L136.26,144.23 L136.30,144.97 L136.34,145.54 L136.38,145.85 L136.46,146.08 L136.50,146.42 L136.54,147.04 L136.58,147.84 L136.62,148.52 L136.66,148.94 L136.70,149.02 L136.74,148.82 L136.82,148.29 L136.86,148.23 L136.90,148.27 L136.94,148.16 L136.98,147.87 L137.02,147.35 L137.10,146.03 L137.14,145.52 L137.18,145.24 L137.26,144.99 L137.30,144.81 L137.42,143.91 L137.46,143.75 L137.50,143.75 L137.58,144.05 L137.62,144.13 L137.66,144.05 L137.74,143.66 L137.78,143.60 L137.82,143.71 L137.86,143.94 L137.90,144.36 L137.94,144.55 L137.98,144.42 L138.06,143.71 L138.10,143.58 L138.14,143.77 L138.18,144.19 L138.22,144.46 L138.26,144.60 L138.30,144.53 L138.38,144.10 L138.42,144.03 L138.46,144.16 L138.54,144.65 L138.58,144.76 L138.62,144.72 L138.70,144.42 L138.74,144.38 L138.78,144.50 L138.86,145.01 L138.90,145.17 L138.94,145.17 L139.02,144.95 L139.06,145.01 L139.10,145.27 L139.14,145.68 L139.18,146.25 L139.22,146.63 L139.26,146.71 L139.34,146.44 L139.38,146.48 L139.42,146.78 L139.46,147.26 L139.50,147.50 L139.54,147.58 L139.58,147.46 L139.66,146.86 L139.70,146.63 L139.74,146.54 L139.78,146.55 L139.82,146.72 L139.86,146.70 L139.90,146.44 L139.98,145.58 L140.02,145.38 L140.06,145.48 L140.10,145.79 L140.14,145.96 L140.18,146.04 L140.22,145.98 L140.30,145.66 L140.34,145.62 L140.38,145.72 L140.42,145.93 L140.46,146.34 L140.50,146.53 L140.54,146.41 L140.62,145.75 L140.66,145.65 L140.70,145.87 L140.74,146.32 L140.78,146.69 L140.82,146.91 L140.86,146.93 L140.94,146.73 L140.98,146.83 L141.02,147.19 L141.06,147.74 L141.14,148.58 L141.18,148.86 L141.26,149.23 L141.30,149.49 L141.38,150.25 L141.42,150.80 L141.46,151.09 L141.50,151.00 L141.58,150.20 L141.62,149.91 L141.66,149.88 L141.70,150.02 L141.74,149.99 L141.78,149.80 L141.82,149.43 L141.90,148.44 L141.94,148.11 L141.98,148.01 L142.02,148.07 L142.06,148.26 L142.10,148.31 L142.14,148.13 L142.22,147.54 L142.26,147.49 L142.30,147.75 L142.38,148.72 L142.42,149.09 L142.46,149.28 L142.54,149.44 L142.58,149.70 L142.62,150.20 L142.66,150.84 L142.70,151.37 L142.74,151.76 L142.78,151.97 L142.94,152.06 L143.02,152.15 L143.06,152.01 L143.10,151.67 L143.18,150.72 L143.22,150.32 L143.26,150.07 L143.38,149.66 L143.50,148.71 L143.54,148.53 L143.58,148.53 L143.66,148.83 L143.70,148.92 L143.78,148.78 L143.82,148.70 L143.86,148.75 L143.90,148.98 L144.02,150.05 L144.14,150.64 L144.18,150.94 L144.22,151.37 L144.30,152.38 L144.34,152.75 L144.38,152.95 L144.54,153.06 L144.58,153.13 L144.62,153.34 L144.66,153.29 L144.70,152.89 L144.78,151.59 L144.82,151.13 L144.86,150.98 L144.90,151.05 L144.98,150.78 L145.10,149.89 L145.14,149.72 L145.18,149.71 L145.22,149.83 L145.26,150.06 L145.30,150.16 L145.34,150.07 L145.42,149.66 L145.46,149.63 L145.50,149.84 L145.58,150.55 L145.62,150.81 L145.74,151.19 L145.78,151.46 L145.82,151.89 L145.90,153.02 L145.94,153.49 L145.98,153.80 L146.10,154.26 L146.18,154.82 L146.22,155.16 L146.26,155.24 L146.30,154.99 L146.38,153.92 L146.42,153.50 L146.46,153.31 L146.54,153.31 L146.58,153.13 L146.62,152.69 L146.70,151.51 L146.74,151.18 L146.78,151.19 L146.86,151.66 L146.90,151.77 L146.94,151.72 L147.02,151.47 L147.06,151.56 L147.10,151.90 L147.18,152.87 L147.22,153.28 L147.30,153.84 L147.38,154.41 L147.46,155.25 L147.50,155.87 L147.54,156.20 L147.58,156.16 L147.66,155.41 L147.70,155.14 L147.74,155.10 L147.78,155.22 L147.82,155.08 L147.86,154.83 L147.90,154.44 L147.98,153.50 L148.02,153.15 L148.06,152.96 L148.10,152.89 L148.14,152.95 L148.18,152.92 L148.22,152.75 L148.30,152.30 L148.34,152.28 L148.38,152.51 L148.42,152.91 L148.46,153.41 L148.50,153.80 L148.54,154.04 L148.62,154.33 L148.66,154.68 L148.70,155.26 L148.78,156.78 L148.82,157.34 L148.86,157.57 L148.90,157.53 L148.94,157.41 L148.98,157.40 L149.02,157.57 L149.06,157.84 L149.10,158.00 L149.14,157.89 L149.18,157.44 L149.26,156.04 L149.30,155.49 L149.34,155.20 L149.42,155.00 L149.46,154.76 L149.50,154.34 L149.58,153.29 L149.62,152.98 L149.66,152.93 L149.74,153.17 L149.78,153.16 L149.82,152.98 L149.90,152.36 L149.94,152.18 L149.98,152.18 L150.02,152.31 L150.06,152.52 L150.10,152.54 L150.14,152.29 L150.22,151.39 L150.26,151.11 L150.30,151.10 L150.38,151.47 L150.42,151.48 L150.46,151.22 L150.54,150.37 L150.58,150.16 L150.62,150.24 L150.70,150.87 L150.74,151.02 L150.78,150.94 L150.86,150.46 L150.90,150.46 L150.94,150.74 L151.02,151.72 L151.06,152.04 L151.10,152.13 L151.18,152.00 L151.22,152.11 L151.26,152.46 L151.30,152.98 L151.34,153.36 L151.38,153.64 L151.42,153.79 L151.50,153.87 L151.54,153.98 L151.58,154.22 L151.66,154.88 L151.70,155.10 L151.74,155.15 L151.82,155.00 L151.86,155.03 L151.90,155.21 L151.98,155.85 L152.02,156.04 L152.06,156.03 L152.14,155.73 L152.18,155.72 L152.22,155.90 L152.30,156.55 L152.34,156.73 L152.38,156.71 L152.46,156.39 L152.50,156.37 L152.54,156.55 L152.62,157.26 L152.66,157.46 L152.70,157.43 L152.74,157.29 L152.78,157.36 L152.82,158.15 L152.86,160.23 L152.90,164.11 L152.94,169.97 L152.98,177.93 L153.02,187.55 L153.10,208.42 L153.14,217.94 L153.18,225.99 L153.22,232.27 L153.26,236.82 L153.30,239.65 L153.34,241.10 L153.38,241.59 L153.46,241.60 L153.50,241.75 L153.54,242.05 L153.58,242.22 L153.62,242.06 L153.66,241.26 L153.70,239.55 L153.74,236.68 L153.78,232.37 L153.82,226.43 L153.86,218.72 L153.90,209.48 L153.94,199.07 L153.98,188.35 L154.02,178.43 L154.06,170.30 L154.10,164.56 L154.14,161.17 L154.18,159.58 L154.22,158.89 L154.30,158.45 L154.38,158.04 L154.42,157.95 L154.46,158.00 L154.54,158.36 L154.58,158.43 L154.62,158.31 L154.70,157.79 L154.74,157.67 L154.78,157.73 L154.82,157.93 L154.86,158.04 L154.90,158.07 L154.94,157.96 L155.02,157.55 L155.06,157.43 L155.10,157.43 L155.18,157.60 L155.22,157.58 L155.26,157.41 L155.34,156.83 L155.38,156.62 L155.42,156.56 L155.46,156.58 L155.50,156.75 L155.54,156.72 L155.58,156.42 L155.66,155.42 L155.70,155.11 L155.74,155.08 L155.78,155.25 L155.82,155.30 L155.86,155.25 L155.90,155.05 L155.98,154.49 L156.02,154.35 L156.06,154.41 L156.10,154.60 L156.14,154.94 L156.18,155.12 L156.22,155.07 L156.30,154.65 L156.34,154.66 L156.38,154.94 L156.46,155.84 L156.50,156.13 L156.54,156.22 L156.62,156.12 L156.66,156.21 L156.70,156.49 L156.74,156.90 L156.78,157.20 L156.82,157.41 L156.86,157.50 L156.94,157.50 L156.98,157.57 L157.02,157.76 L157.06,158.04 L157.10,158.50 L157.14,158.82 L157.18,158.94 L157.26,159.04 L157.30,159.38 L157.34,160.03 L157.38,160.89 L157.42,161.62 L157.46,162.25 L157.50,162.69 L157.54,162.93 L157.58,163.02 L157.66,162.98 L157.70,162.89 L157.74,162.89 L157.78,162.69 L157.86,161.81 L157.90,161.47 L157.94,161.44 L157.98,161.80 L158.02,162.43 L158.06,162.94 L158.10,163.35 L158.14,163.59 L158.18,163.63 L158.26,163.36 L158.34,163.00 L158.38,162.94 L158.42,162.77 L158.50,162.16 L158.54,161.99 L158.58,162.11 L158.62,162.54 L158.66,163.18 L158.70,163.69 L158.74,164.04 L158.78,164.14 L158.82,164.00 L158.94,163.16 L159.10,162.52 L159.14,162.35 L159.18,162.30 L159.22,162.46 L159.26,162.83 L159.34,163.86 L159.38,164.13 L159.42,164.02 L159.46,163.61 L159.50,163.10 L159.54,162.72 L159.58,162.60 L159.70,162.88 L159.78,162.88 L159.82,162.95 L159.86,163.19 L159.98,164.47 L160.02,164.58 L160.06,164.35 L160.14,163.45 L160.18,163.43 L160.22,164.17 L160.26,165.85 L160.30,168.41 L160.38,174.63 L160.42,177.48 L160.46,179.85 L160.50,181.75 L160.54,183.23 L160.58,184.33 L160.62,184.90 L160.66,185.15 L160.70,185.16 L160.78,184.94 L160.90,184.92 L160.94,184.73 L160.98,183.93 L161.02,182.31 L161.06,179.88 L161.10,176.88 L161.14,173.74 L161.18,170.90 L161.22,168.68 L161.26,167.20 L161.30,166.30 L161.34,165.73 L161.42,164.92 L161.46,164.68 L161.50,164.60 L161.54,164.63 L161.62,164.29 L161.70,163.78 L161.74,163.64 L161.78,163.70 L161.82,163.97 L161.90,164.85 L161.94,165.15 L161.98,165.17 L162.02,164.96 L162.10,164.39 L162.14,164.27 L162.26,164.22 L162.34,163.99 L162.38,163.97 L162.42,164.12 L162.46,164.45 L162.54,165.35 L162.58,165.57 L162.62,165.47 L162.66,165.09 L162.70,164.62 L162.74,164.22 L162.78,164.00 L162.82,163.93 L162.90,163.48 L163.02,162.60 L163.06,162.45 L163.10,162.45 L163.14,162.55 L163.18,162.77 L163.22,162.87 L163.26,162.79 L163.34,162.39 L163.38,162.32 L163.42,162.44 L163.50,163.00 L163.54,163.14 L163.58,163.05 L163.66,162.55 L163.70,162.46 L163.74,162.60 L163.82,163.21 L163.86,163.34 L163.90,163.26 L163.98,162.78 L164.02,162.70 L164.06,162.84 L164.10,163.13 L164.14,163.30 L164.18,163.39 L164.22,163.36 L164.30,163.13 L164.34,163.09 L164.38,163.18 L164.42,163.35 L164.46,163.67 L164.50,163.82 L164.54,163.73 L164.62,163.23 L164.66,163.15 L164.70,163.32 L164.74,163.66 L164.78,163.89 L164.82,164.03 L164.86,164.04 L164.94,163.92 L164.98,163.98 L165.02,164.20 L165.06,164.54 L165.10,165.00 L165.14,165.31 L165.18,165.39 L165.26,165.24 L165.30,165.31 L165.34,165.60 L165.38,166.03 L165.42,166.37 L165.46,166.54 L165.50,166.50 L165.58,166.04 L165.62,165.88 L165.66,165.87 L165.70,165.97 L165.74,165.98 L165.78,165.89 L165.82,165.68 L165.90,165.08 L165.94,164.88 L165.98,164.82 L166.02,164.87 L166.06,165.04 L166.10,165.08 L166.14,164.91 L166.22,164.29 L166.26,164.15 L166.30,164.23 L166.38,164.72 L166.42,164.81 L166.46,164.67 L166.54,164.06 L166.58,163.91 L166.62,163.98 L166.70,164.41 L166.74,164.45 L166.78,164.28 L166.86,163.63 L166.90,163.44 L166.94,163.46 L167.02,163.84 L167.06,163.87 L167.10,163.65 L167.18,162.85 L167.22,162.64 L167.26,162.68 L167.30,162.90 L167.34,162.99 L167.38,162.99 L167.42,162.86 L167.50,162.43 L167.54,162.33 L167.58,162.38 L167.66,162.71 L167.70,162.80 L167.74,162.77 L167.82,162.55 L167.86,162.55 L167.90,162.70 L167.98,163.21 L168.02,163.39 L168.10,163.44 L168.14,163.43 L168.18,163.51 L168.22,163.72 L168.30,164.38 L168.34,164.62 L168.38,164.67 L168.46,164.52 L168.50,164.57 L168.54,164.79 L168.62,165.46 L168.66,165.66 L168.70,165.69 L168.78,165.52 L168.82,165.53 L168.86,165.70 L168.94,166.24 L168.98,166.39 L169.02,166.38 L169.10,166.14 L169.14,166.12 L169.18,166.24 L169.26,166.73 L169.30,166.86 L169.34,166.81 L169.42,166.48 L169.46,166.43 L169.50,166.55 L169.58,166.99 L169.62,167.09 L169.66,167.05 L169.74,166.77 L169.78,166.73 L169.82,166.83 L169.90,167.17 L169.94,167.24 L170.02,167.13 L170.10,167.02 L170.18,167.24 L170.22,167.47 L170.26,167.58 L170.30,167.53 L170.38,167.17 L170.42,167.11 L170.46,167.22 L170.54,167.65 L170.58,167.75 L170.62,167.71 L170.70,167.43 L170.74,167.39 L170.78,167.50 L170.86,167.96 L170.90,168.10 L170.94,168.09 L171.02,167.87 L171.06,167.91 L171.10,168.14 L171.14,168.49 L171.18,168.96 L171.22,169.27 L171.26,169.34 L171.34,169.14 L171.38,169.18 L171.42,169.42 L171.46,169.80 L171.50,170.00 L171.54,170.07 L171.58,169.97 L171.70,169.30 L171.74,169.22 L171.78,169.23 L171.82,169.33 L171.86,169.30 L171.90,169.10 L171.98,168.48 L172.02,168.33 L172.06,168.40 L172.14,168.84 L172.18,168.94 L172.22,168.86 L172.30,168.42 L172.34,168.35 L172.38,168.47 L172.46,168.92 L172.50,169.01 L172.54,168.97 L172.62,168.69 L172.66,168.65 L172.70,168.74 L172.78,169.16 L172.82,169.27 L172.86,169.22 L172.94,168.87 L172.98,168.81 L173.02,168.92 L173.06,169.15 L173.10,169.47 L173.14,169.61 L173.18,169.52 L173.26,168.99 L173.30,168.89 L173.34,169.04 L173.38,169.36 L173.42,169.57 L173.46,169.67 L173.50,169.63 L173.58,169.34 L173.62,169.31 L173.66,169.43 L173.74,169.98 L173.78,170.16 L173.82,170.16 L173.90,169.93 L173.94,169.99 L173.98,170.29 L174.06,171.27 L174.10,171.65 L174.14,171.83 L174.22,171.91 L174.26,172.11 L174.30,172.50 L174.34,173.03 L174.38,173.43 L174.42,173.68 L174.46,173.72 L174.58,173.28 L174.66,173.24 L174.70,173.32 L174.74,173.21 L174.78,172.84 L174.86,171.74 L174.90,171.38 L174.94,171.28 L175.02,171.44 L175.06,171.39 L175.10,171.18 L175.18,170.58 L175.22,170.44 L175.26,170.50 L175.34,170.91 L175.38,171.00 L175.42,170.92 L175.50,170.55 L175.54,170.49 L175.58,170.60 L175.66,171.09 L175.70,171.21 L175.74,171.14 L175.82,170.71 L175.86,170.64 L175.90,170.76 L175.98,171.24 L176.02,171.34 L176.06,171.29 L176.14,170.97 L176.18,170.92 L176.22,171.02 L176.30,171.50 L176.34,171.62 L176.38,171.55 L176.46,171.12 L176.50,171.05 L176.54,171.18 L176.62,171.63 L176.66,171.72 L176.70,171.68 L176.78,171.41 L176.82,171.37 L176.86,171.46 L176.90,171.65 L176.94,171.95 L176.98,172.09 L177.02,172.00 L177.10,171.50 L177.14,171.41 L177.18,171.55 L177.26,172.09 L177.30,172.20 L177.34,172.14 L177.42,171.86 L177.46,172.08 L177.50,173.09 L177.54,175.56 L177.58,180.20 L177.62,187.61 L177.66,197.69 L177.70,209.56 L177.74,221.86 L177.78,233.19 L177.82,242.56 L177.86,249.54 L177.90,254.20 L177.94,256.86 L177.98,258.04 L178.02,258.35 L178.10,258.25 L178.18,258.45 L178.22,258.28 L178.26,257.18 L178.30,254.54 L178.34,249.85 L178.38,242.81 L178.42,233.43 L178.46,222.20 L178.50,210.08 L178.54,198.35 L178.58,188.36 L178.62,180.96 L178.66,176.28 L178.70,173.82 L178.74,172.84 L178.78,172.69 L178.86,173.10 L178.90,173.21 L178.94,173.15 L179.02,172.82 L179.06,172.76 L179.10,172.87 L179.18,173.28 L179.22,173.38 L179.26,173.33 L179.34,173.04 L179.38,173.00 L179.42,173.09 L179.50,173.49 L179.54,173.59 L179.58,173.54 L179.66,173.24 L179.70,173.20 L179.74,173.29 L179.78,173.48 L179.82,173.76 L179.86,173.86 L179.90,173.67 L179.94,173.24 L180.10,171.11 L180.14,170.20 L180.18,169.03 L180.22,167.61 L180.30,164.48 L180.34,163.05 L180.38,161.84 L180.42,160.85 L180.58,158.17 L180.62,157.62 L180.66,157.33 L180.70,157.33 L180.78,157.80 L180.82,157.91 L180.86,157.83 L180.94,157.37 L180.98,157.29 L181.02,157.44 L181.10,157.99 L181.22,158.57 L181.26,158.90 L181.30,159.47 L181.34,160.33 L181.38,161.46 L181.54,166.86 L181.66,170.87 L181.70,172.13 L181.74,173.21 L181.78,173.96 L181.82,174.35 L181.86,174.46 L181.94,174.49 L181.98,174.65 L182.06,175.18 L182.10,175.31 L182.14,175.23 L182.22,174.79 L182.26,174.72 L182.30,174.84 L182.38,175.41 L182.42,175.54 L182.46,175.46 L182.54,174.97 L182.58,174.88 L182.62,175.02 L182.70,175.61 L182.74,175.75 L182.78,175.66 L182.86,175.16 L182.90,175.08 L182.94,175.21 L182.98,175.51 L183.02,175.69 L183.06,175.78 L183.10,175.74 L183.18,175.49 L183.22,175.45 L183.26,175.54 L183.34,175.88 L183.38,175.96 L183.42,175.92 L183.54,175.58 L183.62,175.46 L183.66,175.24 L183.70,174.67 L183.74,173.66 L183.78,172.28 L183.86,169.06 L183.90,167.57 L183.94,166.27 L183.98,165.14 L184.06,163.15 L184.10,162.31 L184.14,161.66 L184.18,161.30 L184.22,161.23 L184.30,161.56 L184.34,161.66 L184.38,161.60 L184.46,161.22 L184.50,161.16 L184.54,161.32 L184.66,162.35 L184.74,163.19 L184.78,163.54 L184.82,163.62 L184.86,163.20 L184.90,162.18 L184.94,160.77 L185.02,157.58 L185.06,156.35 L185.10,155.58 L185.14,155.29 L185.18,155.40 L185.26,156.10 L185.30,156.33 L185.34,156.42 L185.38,156.64 L185.42,157.43 L185.46,159.25 L185.50,162.39 L185.54,166.81 L185.58,172.13 L185.62,177.81 L185.66,183.25 L185.70,187.91 L185.74,191.47 L185.78,193.90 L185.82,195.40 L185.86,196.27 L185.90,196.74 L185.94,196.91 L185.98,196.84 L186.10,195.97 L186.14,195.62 L186.18,195.03 L186.22,193.93 L186.26,192.13 L186.30,189.61 L186.38,183.68 L186.42,181.22 L186.46,179.55 L186.50,178.70 L186.54,178.39 L186.62,178.14 L186.70,177.72 L186.74,177.70 L186.78,177.91 L186.82,178.31 L186.90,178.83 L187.02,179.40 L187.06,179.71 L187.10,180.16 L187.14,180.69 L187.18,181.40 L187.22,181.96 L187.26,182.30 L187.34,182.59 L187.38,182.81 L187.46,183.58 L187.50,183.80 L187.54,183.84 L187.58,183.66 L187.70,182.51 L187.78,181.94 L187.82,181.69 L187.86,181.35 L187.98,179.94 L188.02,179.61 L188.06,179.44 L188.18,179.39 L188.26,179.00 L188.30,178.79 L188.34,178.70 L188.38,178.76 L188.42,178.95 L188.46,179.22 L188.50,179.36 L188.54,179.29 L188.62,178.88 L188.66,178.85 L188.70,179.06 L188.78,179.77 L188.82,180.02 L188.86,180.13 L188.94,180.22 L188.98,180.42 L189.02,180.81 L189.10,181.84 L189.14,182.25 L189.18,182.51 L189.30,182.92 L189.42,183.58 L189.46,183.61 L189.50,183.43 L189.62,182.40 L189.66,182.18 L189.70,182.05 L189.74,182.01 L189.78,181.82 L189.82,181.46 L189.90,180.52 L189.94,180.24 L189.98,180.19 L190.06,180.46 L190.10,180.49 L190.14,180.35 L190.22,179.84 L190.26,179.74 L190.30,179.83 L190.34,180.08 L190.42,180.28 L190.50,180.15 L190.58,180.02 L190.66,180.24 L190.70,180.40 L190.74,180.49 L190.78,180.45 L190.86,180.22 L190.90,180.19 L190.94,180.27 L191.02,180.62 L191.06,180.71 L191.18,180.51 L191.22,180.70 L191.26,181.28 L191.30,182.39 L191.34,184.04 L191.38,186.19 L191.42,188.70 L191.50,194.08 L191.54,196.57 L191.58,198.75 L191.62,200.51 L191.66,201.84 L191.70,202.65 L191.74,203.00 L191.78,203.03 L191.86,202.90 L191.90,203.00 L191.98,203.35 L192.02,203.36 L192.06,203.14 L192.10,202.63 L192.14,201.81 L192.18,200.67 L192.22,199.15 L192.26,197.22 L192.30,194.92 L192.34,192.25 L192.38,189.42 L192.42,186.74 L192.46,184.55 L192.50,183.07 L192.54,182.32 L192.58,182.13 L192.66,182.49 L192.70,182.56 L192.78,182.53 L192.82,182.69 L192.86,183.08 L192.94,184.14 L192.98,184.52 L193.02,184.69 L193.10,184.64 L193.14,184.69 L193.22,185.12 L193.26,185.20 L193.30,185.15 L193.34,184.97 L193.46,184.06 L193.54,183.73 L193.62,183.46 L193.74,182.62 L193.78,182.45 L193.82,182.40 L193.94,182.60 L193.98,182.51 L194.06,182.17 L194.10,182.11 L194.14,182.19 L194.22,182.58 L194.26,182.68 L194.30,182.62 L194.38,182.27 L194.42,182.21 L194.46,182.32 L194.54,182.72 L194.58,182.81 L194.62,182.77 L194.70,182.50 L194.74,182.46 L194.78,182.55 L194.86,182.89 L194.90,182.97 L194.98,182.83 L195.06,182.68 L195.14,182.92 L195.18,183.10 L195.22,183.19 L195.26,183.16 L195.34,182.93 L195.38,182.91 L195.42,183.02 L195.50,183.43 L195.54,183.57 L195.66,183.66 L195.70,183.79 L195.74,184.06 L195.78,184.43 L195.82,184.94 L195.86,185.33 L195.90,185.56 L195.98,185.77 L196.02,186.00 L196.06,186.40 L196.14,187.34 L196.18,187.59 L196.22,187.62 L196.34,187.05 L196.46,186.89 L196.50,186.68 L196.54,186.33 L196.62,185.44 L196.66,185.11 L196.70,184.94 L196.82,184.83 L196.86,184.62 L196.94,184.05 L196.98,183.92 L197.02,183.97 L197.10,184.32 L197.14,184.39 L197.18,184.33 L197.26,184.01 L197.30,183.96 L197.34,184.06 L197.42,184.48 L197.46,184.60 L197.50,184.58 L197.58,184.37 L197.62,184.39 L197.66,184.57 L197.74,185.19 L197.78,185.44 L197.90,185.78 L197.94,186.00 L197.98,186.36 L198.06,187.27 L198.10,187.61 L198.14,187.79 L198.26,187.88 L198.38,188.34 L198.42,188.32 L198.46,188.05 L198.54,187.13 L198.58,186.78 L198.62,186.63 L198.70,186.60 L198.74,186.47 L198.78,186.19 L198.86,185.46 L198.90,185.26 L198.94,185.26 L199.02,185.57 L199.06,185.63 L199.10,185.52 L199.18,185.08 L199.22,184.99 L199.26,185.10 L199.30,185.33 L199.38,185.52 L199.46,185.40 L199.54,185.29 L199.62,185.48 L199.66,185.67 L199.70,185.76 L199.74,185.71 L199.82,185.42 L199.86,185.37 L199.90,185.46 L199.98,185.81 L200.02,185.90 L200.06,185.85 L200.14,185.60 L200.18,185.56 L200.22,185.64 L200.30,185.93 L200.34,185.99 L200.42,185.88 L200.50,185.77 L200.58,185.95 L200.62,186.12 L200.66,186.20 L200.70,186.16 L200.78,185.89 L200.82,185.85 L200.86,185.93 L200.94,186.23 L201.02,186.30 L201.10,186.18 L201.14,186.20 L201.22,186.52 L201.30,186.96 L201.42,187.27 L201.46,187.48 L201.50,187.82 L201.54,188.26 L201.58,188.80 L201.62,189.22 L201.66,189.46 L201.74,189.62 L201.78,189.77 L201.90,190.60 L201.94,190.66 L201.98,190.48 L202.10,189.40 L202.14,189.20 L202.22,188.97 L202.26,188.75 L202.30,188.38 L202.38,187.48 L202.42,187.19 L202.46,187.09 L202.54,187.12 L202.62,186.95 L202.70,186.65 L202.74,186.58 L202.82,186.70 L202.90,186.85 L202.98,186.69 L203.06,186.54 L203.22,186.85 L203.38,186.61 L203.54,186.90 L203.70,186.64 L203.78,186.82 L203.86,187.04 L203.98,187.01 L204.02,187.10 L204.06,187.30 L204.10,187.60 L204.14,188.05 L204.18,188.39 L204.22,188.57 L204.30,188.67 L204.34,188.83 L204.38,189.15 L204.46,189.87 L204.50,190.00 L204.54,189.87 L204.66,188.85 L204.70,188.68 L204.74,188.63 L204.82,188.25 L204.94,187.30 L204.98,187.10 L205.02,187.02 L205.14,187.09 L205.26,186.71 L205.30,186.65 L205.38,186.81 L205.42,187.03 L205.46,187.12 L205.50,187.03 L205.58,186.57 L205.62,186.48 L205.66,186.57 L205.74,186.97 L205.78,187.04 L205.82,186.96 L205.90,186.62 L205.94,186.55 L205.98,186.62 L206.06,186.93 L206.10,186.98 L206.14,186.92 L206.22,186.64 L206.26,186.58 L206.30,186.64 L206.38,186.93 L206.42,186.99 L206.46,186.92 L206.54,186.61 L206.58,186.55 L206.62,186.61 L206.70,186.88 L206.74,186.93 L206.82,186.75 L206.90,186.57 L206.98,186.74 L207.02,186.91 L207.06,186.98 L207.10,186.91 L207.18,186.56 L207.22,186.49 L207.26,186.56 L207.34,186.91 L207.38,186.99 L207.42,186.91 L207.50,186.52 L207.54,186.44 L207.58,186.52 L207.66,186.86 L207.70,186.93 L207.74,186.86 L207.82,186.61 L207.86,186.74 L207.90,187.33 L207.94,188.55 L207.98,190.45 L208.06,195.18 L208.10,197.33 L208.14,199.04 L208.18,200.31 L208.22,201.19 L208.26,201.72 L208.30,201.82 L208.34,201.63 L208.38,201.20 L208.42,200.59 L208.46,199.85 L208.50,198.97 L208.54,197.91 L208.58,196.52 L208.62,194.70 L208.66,192.22 L208.70,189.07 L208.78,181.92 L208.82,178.91 L208.86,176.84 L208.90,175.80 L208.94,175.65 L208.98,175.98 L209.02,176.53 L209.06,177.19 L209.10,178.01 L209.14,179.05 L209.18,180.28 L209.22,181.61 L209.26,182.73 L209.30,183.68 L209.34,184.42 L209.38,184.95 L209.46,185.72 L209.54,186.30 L209.58,186.46 L209.62,186.32 L209.66,185.77 L209.70,184.80 L209.74,183.45 L209.78,181.82 L209.82,180.03 L209.94,174.39 L209.98,172.57 L210.02,170.93 L210.06,169.60 L210.10,168.67 L210.14,168.15 L210.18,167.95 L210.30,167.74 L210.38,167.51 L210.42,167.49 L210.46,167.57 L210.50,167.75 L210.58,168.29 L210.66,168.68 L210.70,169.11 L210.74,169.93 L210.78,171.23 L210.82,172.96 L210.86,174.90 L210.94,178.97 L210.98,180.84 L211.02,182.50 L211.06,183.91 L211.10,185.04 L211.14,185.82 L211.18,186.19 L211.22,186.16 L211.26,185.78 L211.34,184.54 L211.38,184.01 L211.42,183.70 L211.46,183.61 L211.54,183.85 L211.58,183.92 L211.74,183.73 L211.78,183.60 L211.82,183.14 L211.86,182.46 L211.90,181.60 L211.98,179.70 L212.02,178.88 L212.06,178.22 L212.10,177.74 L212.18,177.27 L212.30,176.39 L212.34,176.30 L212.38,176.41 L212.42,176.65 L212.50,176.90 L212.62,176.83 L212.66,176.87 L212.70,177.03 L212.74,177.30 L212.86,178.51 L212.90,179.01 L212.94,179.68 L212.98,180.62 L213.02,181.87 L213.06,183.38 L213.14,186.70 L213.18,188.25 L213.22,189.64 L213.26,190.87 L213.30,191.97 L213.34,192.93 L213.38,193.68 L213.42,194.15 L213.46,194.28 L213.50,194.09 L213.54,193.68 L213.62,192.74 L213.66,192.43 L213.90,191.37 L213.94,191.32 L214.02,191.46 L214.10,191.70 L214.18,191.60 L214.26,191.49 L214.34,191.75 L214.42,192.00 L214.50,191.89 L214.58,191.77 L214.66,192.02 L214.70,192.26 L214.74,192.38 L214.78,192.32 L214.86,191.96 L214.90,191.90 L214.94,192.01 L215.02,192.48 L215.06,192.59 L215.10,192.53 L215.18,192.17 L215.22,192.11 L215.26,192.21 L215.34,192.62 L215.38,192.71 L215.42,192.66 L215.50,192.38 L215.54,192.33 L215.58,192.42 L215.66,192.81 L215.70,192.92 L215.74,192.85 L215.82,192.46 L215.86,192.39 L215.90,192.49 L215.98,192.92 L216.02,193.01 L216.06,192.94 L216.14,192.57 L216.18,192.50 L216.22,192.59 L216.30,192.93 L216.34,193.00 L216.42,192.83 L216.50,192.66 L216.62,192.96 L216.66,193.00 L216.82,192.74 L216.90,192.87 L216.94,193.03 L216.98,193.09 L217.02,193.01 L217.10,192.65 L217.14,192.55 L217.18,192.58 L217.26,192.75 L217.30,192.73 L217.34,192.59 L217.46,191.91 L217.58,191.59 L217.62,191.39 L217.70,190.76 L217.78,190.08 L217.86,189.62 L217.90,189.55 L217.94,189.37 L217.98,189.05 L218.06,188.25 L218.10,188.03 L218.14,188.02 L218.26,188.54 L218.34,188.62 L218.38,188.94 L218.42,189.84 L218.46,191.56 L218.50,194.06 L218.58,199.77 L218.62,202.19 L218.66,204.00 L218.70,205.22 L218.74,206.02 L218.78,206.57 L218.82,206.95 L218.86,207.20 L218.90,207.28 L218.94,207.19 L218.98,206.93 L219.02,206.53 L219.06,205.97 L219.10,205.16 L219.14,203.94 L219.18,202.14 L219.22,199.72 L219.30,193.98 L219.34,191.52 L219.38,189.81 L219.42,188.90 L219.46,188.56 L219.54,188.50 L219.66,188.09 L219.70,188.14 L219.74,188.40 L219.86,189.58 L219.98,190.25 L220.02,190.55 L220.10,191.44 L220.14,191.93 L220.18,192.30 L220.22,192.53 L220.34,192.90 L220.46,193.76 L220.50,193.94 L220.58,194.02 L220.66,194.05 L220.78,194.51 L220.82,194.61 L220.90,194.55 L220.98,194.49 L221.06,194.72 L221.10,194.91 L221.14,195.01 L221.18,194.99 L221.26,194.79 L221.30,194.77 L221.34,194.87 L221.42,195.20 L221.46,195.29 L221.54,195.22 L221.62,195.16 L221.78,195.60 L221.94,195.54 L222.02,195.75 L222.10,196.01 L222.18,195.93 L222.26,195.84 L222.34,196.11 L222.38,196.32 L222.42,196.44 L222.46,196.41 L222.54,196.16 L222.58,196.13 L222.62,196.25 L222.70,196.62 L222.74,196.71 L222.82,196.65 L222.90,196.58 L222.98,196.82 L223.02,197.05 L223.06,197.18 L223.10,197.14 L223.18,196.86 L223.22,196.83 L223.26,196.95 L223.34,197.38 L223.38,197.50 L223.42,197.47 L223.50,197.28 L223.54,197.37 L223.58,197.80 L223.62,198.67 L223.66,200.05 L223.70,201.99 L223.74,204.44 L223.78,207.28 L223.86,213.39 L223.90,216.22 L223.94,218.63 L223.98,220.51 L224.02,221.76 L224.06,222.42 L224.10,222.66 L224.18,222.70 L224.22,222.83 L224.26,223.06 L224.34,223.22 L224.38,223.12 L224.42,222.81 L224.46,222.23 L224.50,221.34 L224.54,220.02 L224.58,218.21 L224.62,215.86 L224.66,213.01 L224.74,206.69 L224.78,203.88 L224.82,201.71 L224.86,200.29 L224.90,199.51 L224.94,199.27 L225.02,199.07 L225.10,198.74 L225.14,198.69 L225.18,198.80 L225.26,199.24 L225.30,199.36 L225.34,199.31 L225.42,199.00 L225.46,198.95 L225.50,199.06 L225.54,199.28 L225.62,199.46 L225.78,199.34 L225.86,199.52 L225.90,199.72 L225.94,199.82 L225.98,199.78 L226.06,199.50 L226.10,199.45 L226.14,199.55 L226.18,199.75 L226.26,199.92 L226.42,199.81 L226.58,200.15 L226.74,200.00 L226.90,200.35 L227.06,200.20 L227.14,200.38 L227.22,200.58 L227.30,200.47 L227.38,200.36 L227.46,200.57 L227.54,200.79 L227.62,200.66 L227.70,200.53 L227.78,200.75 L227.82,200.96 L227.86,201.06 L227.90,201.00 L227.98,200.68 L228.02,200.63 L228.06,200.72 L228.14,201.08 L228.18,201.15 L228.26,201.02 L228.34,200.88 L228.50,201.28 L228.66,201.11 L228.74,201.28 L228.82,201.47 L228.90,201.36 L228.98,201.25 L229.14,201.59 L229.30,201.47 L229.46,201.76 L229.62,201.63 L229.70,201.78 L229.78,202.00 L229.86,201.86 L229.94,201.73 L230.02,201.94 L230.10,202.17 L230.18,202.02 L230.26,201.88 L230.34,202.11 L230.42,202.29 L230.50,202.19 L230.58,202.08 L230.66,202.27 L230.74,202.47 L230.82,202.35 L230.90,202.22 L231.06,202.59 L231.22,202.43 L231.30,202.59 L231.34,202.76 L231.38,202.84 L231.42,202.80 L231.50,202.54 L231.54,202.50 L231.58,202.58 L231.66,202.89 L231.70,202.96 L231.78,202.83 L231.86,202.70 L232.02,203.08 L232.18,202.90 L232.26,203.07 L232.34,203.29 L232.42,203.15 L232.50,203.00 L232.62,203.34 L232.70,203.38 L232.82,203.21 L232.90,203.39 L232.98,203.57 L233.06,203.47 L233.14,203.36 L233.30,203.71 L233.46,203.54 L233.54,203.70 L233.58,203.88 L233.62,203.97 L233.66,203.92 L233.74,203.64 L233.78,203.59 L233.82,203.68 L233.90,203.98 L233.94,204.05 L234.02,203.94 L234.10,203.83 L234.18,204.02 L234.22,204.22 L234.26,204.31 L234.30,204.26 L234.38,203.94 L234.42,203.88 L234.46,203.98 L234.54,204.31 L234.58,204.38 L234.66,204.25 L234.74,204.13 L234.90,204.50 L235.06,204.33 L235.14,204.49 L235.18,204.66 L235.22,204.74 L235.26,204.70 L235.34,204.44 L235.38,204.39 L235.42,204.48 L235.50,204.82 L235.54,204.90 L235.58,204.86 L235.66,204.59 L235.70,204.55 L235.74,204.63 L235.82,204.99 L235.86,205.08 L235.90,205.03 L235.98,204.73 L236.02,204.68 L236.06,204.77 L236.10,204.96 L236.18,205.12 L236.34,204.96 L236.42,205.12 L236.46,205.30 L236.50,205.38 L236.54,205.33 L236.62,205.05 L236.66,205.01 L236.70,205.09 L236.78,205.46 L236.82,205.55 L236.86,205.50 L236.94,205.20 L236.98,205.15 L237.02,205.24 L237.10,205.55 L237.14,205.61 L237.22,205.51 L237.30,205.40 L237.38,205.58 L237.46,205.79 L237.54,205.66 L237.62,205.53 L237.70,205.74 L237.74,205.90 L237.78,205.97 L237.82,205.94 L237.90,205.70 L237.94,205.66 L237.98,205.74 L238.06,206.01 L238.14,206.05 L238.26,205.87 L238.34,206.05 L238.38,206.23 L238.42,206.32 L238.46,206.27 L238.54,205.98 L238.58,205.93 L238.62,206.02 L238.70,206.37 L238.74,206.45 L238.78,206.41 L238.86,206.15 L238.90,206.11 L238.94,206.19 L239.02,206.54 L239.06,206.63 L239.10,206.58 L239.18,206.29 L239.22,206.24 L239.26,206.33 L239.34,206.65 L239.38,206.72 L239.46,206.59 L239.54,206.46 L239.62,206.67 L239.70,206.88 L239.78,206.74 L239.86,206.60 L240.02,206.98 L240.18,206.81 L240.34,207.15 L240.50,206.94 L240.58,207.13 L240.62,207.29 L240.66,207.37 L240.70,207.33 L240.78,207.07 L240.82,207.03 L240.86,207.11 L240.94,207.47 L240.98,207.56 L241.02,207.51 L241.10,207.20 L241.14,207.15 L241.18,207.24 L241.22,207.43 L241.30,207.59 L241.46,207.43 L241.62,207.72 L241.78,207.60 L241.94,207.88 L242.10,207.75 L242.18,207.89 L242.26,208.09 L242.34,207.96 L242.42,207.84 L242.50,208.04 L242.54,208.21 L242.58,208.29 L242.62,208.25 L242.70,207.98 L242.74,207.94 L242.78,208.02 L242.86,208.30 L242.94,208.34 L243.06,208.18 L243.14,208.34 L243.22,208.55 L243.30,208.42 L243.38,208.29 L243.46,208.49 L243.54,208.70 L243.62,208.57 L243.70,208.44 L243.78,208.64 L243.82,208.82 L243.86,208.90 L243.90,208.86 L243.98,208.58 L244.02,208.54 L244.06,208.62 L244.14,208.90 L244.22,208.93 L244.34,208.79 L244.50,209.08 L244.66,208.96 L244.74,209.10 L244.82,209.30 L244.90,209.17 L244.98,209.04 L245.06,209.25 L245.14,209.43 L245.22,209.32 L245.30,209.21 L245.46,209.57 L245.62,209.37 L245.70,209.55 L245.74,209.71 L245.78,209.79 L245.82,209.75 L245.90,209.49 L245.94,209.45 L245.98,209.53 L246.06,209.85 L246.10,209.93 L246.14,209.89 L246.22,209.65 L246.26,209.61 L246.38,209.94 L246.46,209.97 L246.58,209.85 L246.66,209.99 L246.74,210.20 L246.82,210.07 L246.90,209.93 L246.98,210.14 L247.02,210.31 L247.06,210.39 L247.10,210.35 L247.18,210.09 L247.22,210.04 L247.26,210.12 L247.34,210.47 L247.38,210.55 L247.42,210.51 L247.50,210.22 L247.54,210.18 L247.58,210.26 L247.62,210.44 L247.70,210.57 L247.86,210.46 L247.94,210.59 L247.98,210.75 L248.02,210.83 L248.06,210.79 L248.14,210.53 L248.18,210.49 L248.22,210.57 L248.30,210.82 L248.38,210.86 L248.50,210.76 L248.58,210.89 L248.66,211.12 L248.74,210.97 L248.82,210.82 L248.90,211.05 L248.98,211.26 L249.06,211.13 L249.14,211.00 L249.22,211.21 L249.26,211.40 L249.30,211.49 L249.34,211.44 L249.42,211.17 L249.46,211.12 L249.50,211.22 L249.58,211.55 L249.62,211.63 L249.70,211.51 L249.78,211.38 L249.94,211.78 L250.10,211.71 L250.18,211.88 L250.26,212.14 L250.34,212.03 L250.42,211.93 L250.58,212.41 L250.74,212.35 L250.82,212.58 L250.86,212.77 L250.90,212.88 L250.94,212.88 L251.02,212.70 L251.06,212.69 L251.10,212.81 L251.18,213.13 L251.26,213.25 L251.38,213.27 L251.54,213.72 L251.70,213.71 L251.74,213.86 L251.78,214.19 L251.82,214.87 L251.86,216.09 L251.90,218.16 L251.94,221.41 L251.98,225.97 L252.02,231.67 L252.10,244.45 L252.14,250.22 L252.18,254.98 L252.22,258.57 L252.26,261.03 L252.30,262.58 L252.34,263.48 L252.38,263.98 L252.46,264.42 L252.50,264.50 L252.54,264.47 L252.58,264.33 L252.62,264.07 L252.66,263.61 L252.70,262.77 L252.74,261.32 L252.78,258.95 L252.82,255.43 L252.86,250.69 L252.90,244.92 L252.98,232.23 L253.02,226.57 L253.06,222.06 L253.10,218.86 L253.14,216.82 L253.18,215.65 L253.22,215.01 L253.26,214.68 L253.30,214.56 L253.34,214.58 L253.42,214.81 L253.46,214.85 L253.50,214.77 L253.58,214.46 L253.62,214.38 L253.74,214.60 L253.82,214.56 L253.94,214.26 L254.10,214.41 L254.26,214.14 L254.42,214.28 L254.58,214.01 L254.74,214.22 L254.90,213.95 L255.06,214.15 L255.22,214.00 L255.30,214.09 L255.38,214.27 L255.46,214.12 L255.54,213.98 L255.70,214.27 L255.86,214.15 L256.02,214.37 L256.18,214.27 L256.26,214.38 L256.34,214.60 L256.42,214.45 L256.50,214.29 L256.58,214.51 L256.66,214.72 L256.74,214.58 L256.82,214.45 L256.98,214.79 L257.14,214.67 L257.34,215.13 L257.42,215.26 L257.46,215.45 L257.50,215.76 L257.54,216.18 L257.74,218.87 L257.82,220.20 L257.86,220.90 L257.90,221.48 L257.94,221.87 L257.98,222.02 L258.02,221.94 L258.06,221.68 L258.14,220.92 L258.18,220.47 L258.26,219.32 L258.38,217.38 L258.42,216.88 L258.46,216.52 L258.50,216.27 L258.70,215.48 L258.74,215.41 L258.82,215.50 L258.90,215.67 L258.98,215.52 L259.06,215.38 L259.18,215.60 L259.30,215.56 L259.42,215.50 L259.54,215.69 L259.62,215.48 L259.70,215.26 L259.86,215.47 L260.02,215.11 L260.18,215.24 L260.34,215.03 L260.42,215.13 L260.50,215.30 L260.66,215.11 L260.82,215.51 L260.98,215.58 L261.14,216.00 L261.30,216.03 L261.46,216.47 L261.62,216.41 L261.78,216.76 L261.94,216.71 L262.02,216.85 L262.10,217.05 L262.18,216.94 L262.26,216.83 L262.42,217.19 L262.58,217.01 L262.74,217.30 L262.90,217.33 L262.98,217.58 L263.14,218.30 L263.18,218.54 L263.22,218.87 L263.26,219.30 L263.38,220.96 L263.58,223.74 L263.66,224.66 L263.70,224.93 L263.74,225.01 L263.78,224.92 L263.86,224.40 L263.94,223.70 L264.02,222.70 L264.14,220.89 L264.18,220.36 L264.22,219.93 L264.26,219.58 L264.46,218.31 L264.50,218.18 L264.58,218.16 L264.66,218.23 L264.82,217.98 L264.98,218.30 L265.14,218.10 L265.30,218.37 L265.46,218.30 L265.62,218.52 L265.78,218.41 L265.94,218.63 L266.10,218.49 L266.26,218.68 L266.42,218.50 L266.58,218.63 L266.74,218.39 L266.90,218.47 L267.06,218.20 L267.22,218.34 L267.38,218.10 L267.54,218.34 L267.70,218.31 L267.86,218.64 L268.02,218.70 L268.18,219.08 L268.34,219.14 L268.50,219.47 L268.70,219.57 L268.82,219.80 L268.98,219.72 L269.14,219.98 L269.30,219.91 L269.46,220.18 L269.62,220.01 L269.78,220.31 L269.94,220.16 L270.10,220.40 L270.26,220.34 L270.42,220.53 L270.58,220.47 L270.74,220.70 L270.90,220.57 L271.06,220.82 L271.22,220.72 L271.38,220.91 L271.58,220.92 L271.70,221.09 L271.86,220.98 L272.02,221.20 L272.18,221.13 L272.34,221.36 L272.50,221.24 L272.66,221.49 L272.82,221.37 L272.98,221.63 L273.14,221.50 L273.30,221.75 L273.46,221.64 L273.62,221.89 L273.78,221.76 L273.94,221.98 L274.14,221.97 L274.26,222.11 L274.42,222.06 L274.62,222.23 L274.78,222.24 L274.90,222.41 L275.06,222.30 L275.22,222.49 L275.42,222.50 L275.58,222.64 L275.70,222.58 L275.86,222.77 L276.02,222.71 L276.18,222.92 L276.34,222.83 L276.50,223.03 L276.70,223.01 L276.86,223.15 L277.02,223.15 L277.18,223.28 L277.34,223.27 L277.50,223.40 L277.66,223.42 L277.82,223.54 L277.98,223.54 L278.14,223.68 L278.26,223.62 L278.46,223.79 L278.62,223.80 L278.74,223.95 L278.90,223.86 L279.06,224.06 L279.26,224.05 L279.42,224.18 L279.58,224.18 L279.74,224.32 L279.86,224.26 L280.06,224.43 L280.22,224.44 L280.38,224.56 L280.54,224.57 L280.70,224.71 L280.82,224.64 L281.02,224.81 L281.18,224.83 L281.22,224.90 L281.26,225.05 L281.30,225.37 L281.34,226.06 L281.38,227.43 L281.42,229.82 L281.46,233.42 L281.50,238.16 L281.54,243.68 L281.58,249.43 L281.62,254.87 L281.66,259.58 L281.70,263.31 L281.74,266.04 L281.78,267.87 L281.82,268.98 L281.86,269.60 L281.90,269.89 L281.94,270.00 L282.06,269.97 L282.10,269.90 L282.14,269.69 L282.18,269.17 L282.22,268.13 L282.26,266.35 L282.30,263.63 L282.34,259.89 L282.38,255.19 L282.42,249.79 L282.46,244.13 L282.50,238.73 L282.54,234.10 L282.58,230.56 L282.62,228.19 L282.66,226.83 L282.70,226.18 L282.74,225.96 L282.78,225.95 L283.06,226.66 L283.26,227.40 L283.46,227.98 L283.58,228.26 L283.82,228.34 L283.94,228.17 L284.22,227.53 L284.38,227.08 L284.54,226.83 L284.66,226.56 L285.02,226.42 L285.18,226.49 L285.34,226.47 L285.54,226.57 L285.86,226.69 L286.02,226.76 L286.18,226.82 L286.34,226.88 L286.50,226.94 L286.66,227.00 L286.82,227.07 L286.98,227.13 L287.14,227.19 L287.30,227.25 L287.46,227.31 L287.62,227.38 L287.78,227.44 L287.94,227.50 L288.10,227.56 L288.26,227.62 L288.62,227.79 L288.86,227.83 L289.06,227.93 L289.90,228.27 L290.18,228.36 L291.02,228.66 L292.30,229.15 L301.58,232.61 L315.98,237.68 L319.34,238.86 L319.74,239.27 L320.02,239.51 L320.38,239.37 L320.74,239.31 L328.82,241.98 L329.10,242.28 L329.30,242.78 L329.50,243.61 L329.78,244.98 L329.90,245.37 L330.02,245.50 L330.14,245.36 L330.30,244.82 L330.58,243.62 L330.74,243.13 L330.94,242.82 L331.26,242.74 L338.98,245.11 L339.34,245.01 L339.86,244.51 L340.06,244.53 L340.34,244.90 L340.74,245.51 L341.18,245.81 L355.78,250.15 L356.26,250.33 L356.30,250.43 L356.34,250.65 L356.38,251.08 L356.42,251.82 L356.46,252.91 L356.50,254.34 L356.62,259.38 L356.66,260.80 L356.70,261.94 L356.74,262.77 L356.78,263.33 L356.82,263.67 L356.86,263.86 L356.94,263.98 L357.10,264.00 L357.14,263.94 L357.18,263.78 L357.22,263.46 L357.26,262.92 L357.30,262.11 L357.34,261.00 L357.38,259.59 L357.42,257.97 L357.50,254.63 L357.54,253.22 L357.58,252.15 L357.62,251.43 L357.66,251.02 L357.70,250.83 L357.78,250.74 L374.66,255.41 L374.86,255.63 L375.02,256.00 L375.38,257.32 L375.50,257.50 L375.62,257.39 L375.82,256.76 L376.02,256.16 L376.22,255.90 L376.62,255.90 L390.98,259.59 L391.02,259.66 L391.06,259.81 L391.10,260.17 L391.14,260.85 L391.18,261.98 L391.22,263.59 L391.26,265.64 L391.34,270.31 L391.38,272.49 L391.42,274.35 L391.46,275.79 L391.50,276.83 L391.54,277.51 L391.58,277.91 L391.62,278.11 L391.70,278.24 L391.86,278.22 L391.90,278.11 L391.94,277.83 L391.98,277.32 L392.02,276.49 L392.06,275.28 L392.10,273.64 L392.14,271.63 L392.22,267.01 L392.26,264.82 L392.30,263.00 L392.34,261.65 L392.38,260.77 L392.42,260.29 L392.46,260.07 L392.54,259.97 L409.86,264.08 L410.02,264.02 L410.14,263.75 L410.22,263.33 L410.26,263.01 L410.30,262.60 L410.34,262.11 L410.38,261.52 L410.46,260.12 L410.58,257.87 L410.62,257.24 L410.66,256.73 L410.70,256.40 L410.74,256.25 L410.78,256.31 L410.82,256.58 L410.86,257.02 L410.90,257.61 L410.98,259.08 L411.10,261.36 L411.14,262.00 L411.18,262.56 L411.22,263.03 L411.26,263.41 L411.34,263.94 L411.42,264.23 L411.58,264.46 L425.14,267.51 L430.50,268.69 L430.62,268.86 L430.70,269.16 L430.74,269.42 L430.78,269.78 L430.82,270.27 L430.86,270.90 L430.90,271.69 L430.94,272.62 L430.98,273.67 L431.10,277.05 L431.14,278.00 L431.18,278.72 L431.22,279.15 L431.26,279.24 L431.30,278.99 L431.34,278.43 L431.38,277.61 L431.42,276.59 L431.54,273.25 L431.58,272.27 L431.62,271.43 L431.66,270.74 L431.70,270.20 L431.74,269.79 L431.78,269.50 L431.86,269.17 L431.98,269.01 L433.02,269.21 L433.18,269.40 L433.26,269.67 L433.34,270.17 L433.42,270.95 L433.50,272.00 L433.62,273.65 L433.66,274.07 L433.70,274.36 L433.74,274.49 L433.78,274.46 L433.82,274.26 L433.86,273.92 L433.94,272.93 L434.06,271.32 L434.14,270.50 L434.22,269.97 L434.30,269.69 L434.42,269.53 L435.70,269.75 L444.58,271.60 L444.62,271.71 L444.66,272.00 L444.70,272.66 L444.74,273.93 L444.78,276.03 L444.82,279.06 L444.86,282.90 L444.90,287.24 L444.94,291.67 L444.98,295.76 L445.02,299.24 L445.06,301.95 L445.10,303.90 L445.14,305.16 L445.18,305.90 L445.22,306.28 L445.26,306.44 L445.42,306.50 L445.46,306.42 L445.50,306.19 L445.54,305.66 L445.58,304.70 L445.62,303.13 L445.66,300.82 L445.70,297.73 L445.74,293.93 L445.78,289.64 L445.82,285.22 L445.86,281.10 L445.90,277.65 L445.94,275.10 L445.98,273.45 L446.02,272.53 L446.06,272.11 L446.10,271.94 L446.26,271.90 L467.10,275.90 L489.02,279.78 L491.26,280.20 L491.50,280.45 L491.90,281.23 L492.06,281.29 L492.26,281.02 L492.54,280.57 L492.82,280.44 L501.26,281.85 L501.54,282.12 L501.90,282.74 L502.06,282.79 L502.30,282.50 L502.58,282.15 L502.94,282.08 L512.98,283.70 L513.22,283.92 L513.66,284.74 L513.82,284.78 L514.06,284.43 L514.30,284.06 L514.58,283.94 L527.42,285.88 L527.66,286.11 L527.86,286.57 L528.10,287.30 L528.22,287.49 L528.34,287.45 L528.50,287.09 L528.74,286.45 L528.94,286.18 L529.34,286.14 L545.10,288.41 L545.38,288.62 L545.58,288.99 L545.82,289.72 L546.06,290.49 L546.22,290.74 L546.34,290.71 L546.50,290.39 L546.90,289.22 L547.10,288.88 L547.42,288.73 L568.10,291.47 L568.38,291.67 L568.58,292.03 L568.86,292.88 L569.06,293.49 L569.22,293.74 L569.34,293.71 L569.50,293.40 L569.90,292.24 L570.10,291.92 L570.42,291.76 L574.90,292.32 L575.02,292.47 L575.10,292.78 L575.14,293.08 L575.18,293.50 L575.22,294.08 L575.26,294.84 L575.30,295.79 L575.34,296.91 L575.46,300.68 L575.50,301.74 L575.54,302.53 L575.58,302.94 L575.62,302.95 L575.66,302.54 L575.70,301.76 L575.74,300.71 L575.86,296.98 L575.90,295.87 L575.94,294.93 L575.98,294.19 L576.02,293.64 L576.06,293.26 L576.10,293.03 L576.14,292.95 L576.18,292.99 L576.22,293.18 L576.26,293.51 L576.30,294.01 L576.34,294.71 L576.38,295.61 L576.42,296.70 L576.46,297.96 L576.54,300.65 L576.58,301.88 L576.62,302.88 L576.66,303.52 L576.70,303.75 L576.74,303.53 L576.78,302.90 L576.82,301.91 L576.86,300.69 L576.94,298.01 L576.98,296.77 L577.02,295.68 L577.06,294.78 L577.10,294.09 L577.14,293.57 L577.18,293.21 L577.22,292.96 L577.30,292.72 L577.46,292.62 L597.30,295.02 L597.46,295.22 L597.54,295.48 L597.62,295.95 L597.66,296.29 L597.70,296.72 L597.74,297.25 L597.78,297.89 L597.82,298.63 L597.86,299.47 L597.94,301.37 L598.02,303.39 L598.06,304.33 L598.10,305.17 L598.14,305.87 L598.18,306.38 L598.22,306.68 L598.26,306.74 L598.30,306.57 L598.34,306.17 L598.38,305.57 L598.42,304.81 L598.50,302.95 L598.62,300.00 L598.66,299.13 L598.70,298.35 L598.74,297.67 L598.78,297.10 L598.82,296.63 L598.86,296.25 L598.94,295.73 L599.02,295.45 L599.14,295.27 L599.62,295.25 L601.38,295.41 L601.66,295.25 L601.86,294.93 L602.30,293.72 L602.46,293.51 L602.58,293.55 L602.74,293.87 L603.14,295.07 L603.38,295.49 L603.74,295.70 L605.46,295.87 L605.78,295.69 L606.10,295.18 L606.38,294.75 L606.58,294.74 L606.82,295.10 L607.18,295.79 L607.50,296.08 L608.94,296.30 L609.58,296.28 L609.86,296.05 L610.34,295.28 L610.54,295.21 L610.74,295.44 L611.18,296.25 L611.50,296.53 L613.14,296.77 L621.22,297.68 L621.46,297.88 L621.90,298.73 L622.06,298.79 L622.26,298.49 L622.54,297.99 L622.82,297.84 L637.58,299.38 L637.86,299.62 L638.06,300.08 L638.26,300.85 L638.54,302.09 L638.66,302.41 L638.78,302.49 L638.90,302.31 L639.06,301.74 L639.34,300.54 L639.50,300.06 L639.70,299.74 L640.02,299.61 L645.26,300.15 L645.54,300.39 L645.90,300.95 L646.06,300.99 L646.30,300.71 L646.58,300.36 L646.98,300.28 L655.38,301.13 L655.66,301.35 L655.86,301.72 L656.30,303.03 L656.46,303.29 L656.58,303.27 L656.74,302.98 L657.14,301.84 L657.38,301.47 L657.74,301.33 L658.42,301.44 L658.66,301.66 L658.86,302.07 L659.30,303.51 L659.46,303.78 L659.58,303.76 L659.74,303.44 L660.14,302.19 L660.34,301.82 L660.62,301.63 L664.98,301.94 L665.30,301.74 L665.86,300.86 L666.06,300.82 L666.26,301.07 L666.70,301.87 L667.02,302.13 L669.62,302.42 L671.10,302.57 L671.18,302.67 L671.22,302.79 L671.26,302.99 L671.30,303.32 L671.34,303.80 L671.38,304.46 L671.42,305.31 L671.46,306.34 L671.50,307.51 L671.62,311.36 L671.66,312.56 L671.70,313.63 L671.74,314.56 L671.78,315.33 L671.82,315.94 L671.86,316.41 L671.90,316.74 L671.94,316.98 L672.02,317.21 L672.22,317.30 L672.38,317.25 L672.46,317.02 L672.50,316.80 L672.54,316.47 L672.58,316.01 L672.62,315.41 L672.66,314.65 L672.70,313.73 L672.74,312.66 L672.82,310.20 L672.90,307.64 L672.94,306.47 L672.98,305.45 L673.02,304.61 L673.06,303.95 L673.10,303.48 L673.14,303.16 L673.18,302.97 L673.26,302.80 L674.34,302.85 L675.78,303.02 L676.06,303.26 L676.42,303.77 L676.62,303.75 L677.06,303.22 L677.46,303.13 L692.06,304.43 L692.34,304.65 L692.54,305.06 L692.74,305.79 L693.02,307.02 L693.14,307.38 L693.26,307.50 L693.38,307.36 L693.54,306.83 L693.86,305.49 L694.06,304.95 L694.30,304.68 L694.86,304.64 L712.14,306.09 L712.42,306.29 L712.66,306.72 L713.06,307.79 L713.22,307.99 L713.38,307.91 L713.58,307.49 L713.90,306.69 L714.14,306.37 L714.54,306.26 L751.22,309.04 L751.50,309.26 L751.90,309.94 L752.06,309.99 L752.30,309.65 L752.58,309.25 L752.94,309.13 L770.78,310.39 L771.06,310.58 L771.26,310.99 L771.42,311.56 L771.78,313.27 L771.90,313.64 L772.02,313.75 L772.14,313.56 L772.30,312.96 L772.58,311.63 L772.74,311.09 L772.94,310.71 L773.22,310.55 L774.66,310.66 L774.94,310.87 L775.18,311.31 L775.58,312.33 L775.74,312.50 L775.90,312.39 L776.14,311.84 L776.42,311.18 L776.66,310.88 L777.10,310.78 L785.86,311.39 L786.14,311.60 L786.34,311.98 L786.58,312.74 L786.82,313.51 L786.94,313.72 L787.06,313.73 L787.22,313.44 L787.62,312.16 L787.82,311.76 L788.10,311.55 L789.98,311.61 L795.94,312.03 L796.26,312.27 L796.54,312.77 L796.82,313.35 L796.98,313.50 L797.14,313.42 L797.42,312.91 L797.70,312.41 L797.98,312.19 L798.90,312.17 L814.26,313.14 L814.54,313.38 L814.90,313.95 L815.06,313.99 L815.30,313.68 L815.58,313.31 L815.98,313.21 L849.50,315.10" stroke="#00f"/>
</g>
<g stroke="#000" stroke-width="1" shape-rendering="crispEdges" opacity="0.64"><line x1="88.5" y1="344.5" x2="88.5" y2="340.0"/><line x1="88.5" y1="33.5" x2="88.5" y2="38.0"/><line x1="183.5" y1="344.5" x2="183.5" y2="340.0"/><line x1="183.5" y1="33.5" x2="183.5" y2="38.0"/><line x1="279.5" y1="344.5" x2="279.5" y2="340.0"/><line x1="279.5" y1="33.5" x2="279.5" y2="38.0"/><line x1="374.5" y1="344.5" x2="374.5" y2="340.0"/><line x1="374.5" y1="33.5" x2="374.5" y2="38.0"/><line x1="469.5" y1="344.5" x2="469.5" y2="340.0"/><line x1="469.5" y1="33.5" x2="469.5" y2="38.0"/><line x1="564.5" y1="344.5" x2="564.5" y2="340.0"/><line x1="564.5" y1="33.5" x2="564.5" y2="38.0"/><line x1="659.5" y1="344.5" x2="659.5" y2="340.0"/><line x1="659.5" y1="33.5" x2="659.5" y2="38.0"/><line x1="754.5" y1="344.5" x2="754.5" y2="340.0"/><line x1="754.5" y1="33.5" x2="754.5" y2="38.0"/><line x1="849.5" y1="344.5" x2="849.5" y2="340.0"/><line x1="849.5" y1="33.5" x2="849.5" y2="38.0"/><line x1="50.5" y1="337.5" x2="55.0" y2="337.5"/><line x1="849.5" y1="337.5" x2="845.0" y2="337.5"/><line x1="50.5" y1="274.5" x2="55.0" y2="274.5"/><line x1="849.5" y1="274.5" x2="845.0" y2="274.5"/><line x1="50.5" y1="211.5" x2="55.0" y2="211.5"/><line x1="849.5" y1="211.5" x2="845.0" y2="211.5"/><line x1="50.5" y1="148.5" x2="55.0" y2="148.5"/><line x1="849.5" y1="148.5" x2="845.0" y2="148.5"/><line x1="50.5" y1="85.5" x2="55.0" y2="85.5"/><line x1="849.5" y1="85.5" x2="845.0" y2="85.5"/></g>
<rect x="50.5" y="33.5" width="799.0" height="311.0" fill="none" stroke="#000" stroke-width="1" shape-rendering="crispEdges"/>
<g><text x="88.21" y="357.9" text-anchor="middle">4000</text><text x="183.36" y="357.9" text-anchor="middle">4500</text><text x="278.51" y="357.9" text-anchor="middle">5000</text><text x="373.66" y="357.9" text-anchor="middle">5500</text><text x="468.81" y="357.9" text-anchor="middle">6000</text><text x="563.96" y="357.9" text-anchor="middle">6500</text><text x="659.11" y="357.9" text-anchor="middle">7000</text><text x="754.26" y="357.9" text-anchor="middle">7500</text><text x="849.41" y="357.9" text-anchor="middle">8000</text></g>
<g><text x="47.2" y="340.40" text-anchor="end">0</text><text x="47.2" y="277.40" text-anchor="end">1</text><text x="47.2" y="214.40" text-anchor="end">2</text><text x="47.2" y="151.40" text-anchor="end">3</text><text x="47.2" y="88.40" text-anchor="end">4</text></g>
<text x="48.7" y="29.8" font-size="13.1">1e−10</text>
<text x="450" y="28.2" text-anchor="middle" font-size="16">model1854: L/L<tspan dy="4" dx="1.5" font-size="11.4" fill="#222">⊙</tspan><tspan dy="-4" dx="0.5"> = 350000</tspan></text>
<text x="450.6" y="380.8" text-anchor="middle">Wavelength [ <tspan class="ser">Å</tspan> ]</text>
<text transform="translate(27.7,189.2) rotate(-90)" text-anchor="middle">Flux at 1 kpc [ erg/s/cm<tspan dy="-5" font-size="9.33">2</tspan><tspan dy="5" dx="1.5">/</tspan><tspan class="ser">Å</tspan><tspan dx="2"> ]</tspan></text>
</svg>
</body></html>
